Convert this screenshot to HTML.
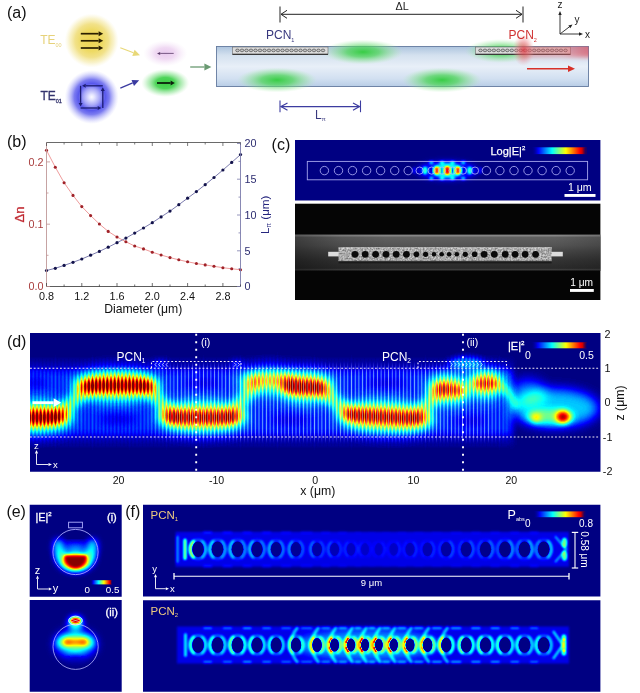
<!DOCTYPE html>
<html><head><meta charset="utf-8"><title>figure</title>
<style>
html,body{margin:0;padding:0;background:#fff}
svg{display:block}
text{font-family:"Liberation Sans",sans-serif}
</style></head><body>
<svg width="640" height="693" viewBox="0 0 640 693">
<defs>
<filter id="jet" color-interpolation-filters="sRGB" x="0" y="0" width="1" height="1">
<feComponentTransfer>
<feFuncR type="table" tableValues="0 0 0 0 0.5 1 1 1 0.5"/>
<feFuncG type="table" tableValues="0 0 0.5 1 1 1 0.5 0 0"/>
<feFuncB type="table" tableValues="0.51 1 1 1 0.5 0 0 0 0"/>
</feComponentTransfer>
</filter>
<linearGradient id="jetbar" x1="0" x2="1" y1="0" y2="0">
<stop offset="0" stop-color="#000082"/><stop offset="0.125" stop-color="#0000ff"/><stop offset="0.25" stop-color="#0080ff"/><stop offset="0.375" stop-color="#00ffff"/><stop offset="0.5" stop-color="#80ff80"/><stop offset="0.625" stop-color="#ffff00"/><stop offset="0.75" stop-color="#ff8000"/><stop offset="0.875" stop-color="#ff0000"/><stop offset="1" stop-color="#800000"/>
</linearGradient>
<filter id="b1" x="-0.5" y="-0.5" width="2" height="2"><feGaussianBlur stdDeviation="1"/></filter>
<filter id="b2" x="-0.5" y="-0.5" width="2" height="2"><feGaussianBlur stdDeviation="2"/></filter>
<filter id="b3" x="-0.5" y="-0.5" width="2" height="2"><feGaussianBlur stdDeviation="3"/></filter>
<filter id="b4" x="-0.5" y="-0.5" width="2" height="2"><feGaussianBlur stdDeviation="4"/></filter>
<filter id="b5" x="-0.5" y="-0.5" width="2" height="2"><feGaussianBlur stdDeviation="5"/></filter>
<filter id="b6" x="-0.5" y="-0.5" width="2" height="2"><feGaussianBlur stdDeviation="6"/></filter>
<filter id="b05" x="-0.5" y="-0.5" width="2" height="2"><feGaussianBlur stdDeviation="0.6"/></filter>

<radialGradient id="gy"><stop offset="0" stop-color="#ecd454"/><stop offset="0.4" stop-color="#eeda64"/><stop offset="0.62" stop-color="#f0de7c" stop-opacity="0.9"/><stop offset="0.82" stop-color="#f4e8a0" stop-opacity="0.55"/><stop offset="1" stop-color="#f8f0c0" stop-opacity="0"/></radialGradient>
<radialGradient id="gb"><stop offset="0" stop-color="#fafaff"/><stop offset="0.1" stop-color="#e4e4ff"/><stop offset="0.3" stop-color="#a8a8f8"/><stop offset="0.5" stop-color="#5858ec"/><stop offset="0.65" stop-color="#6464ee" stop-opacity="0.85"/><stop offset="0.82" stop-color="#9090f4" stop-opacity="0.45"/><stop offset="1" stop-color="#c0c0ff" stop-opacity="0"/></radialGradient>
<radialGradient id="gp"><stop offset="0" stop-color="#e8c8ee"/><stop offset="0.45" stop-color="#ecd0f0" stop-opacity="0.8"/><stop offset="1" stop-color="#f4e4f8" stop-opacity="0"/></radialGradient>
<radialGradient id="gg"><stop offset="0" stop-color="#3ccc44"/><stop offset="0.4" stop-color="#3cd048" stop-opacity="0.9"/><stop offset="0.75" stop-color="#80e088" stop-opacity="0.45"/><stop offset="1" stop-color="#b0f0b0" stop-opacity="0"/></radialGradient>
<radialGradient id="gg2"><stop offset="0" stop-color="#30cc3c" stop-opacity="0.95"/><stop offset="0.4" stop-color="#4cd458" stop-opacity="0.75"/><stop offset="0.75" stop-color="#80e088" stop-opacity="0.35"/><stop offset="1" stop-color="#b0f0b0" stop-opacity="0"/></radialGradient>
<radialGradient id="gr"><stop offset="0" stop-color="#e03840" stop-opacity="0.8"/><stop offset="0.5" stop-color="#e86870" stop-opacity="0.5"/><stop offset="1" stop-color="#f0a0a0" stop-opacity="0"/></radialGradient>
<linearGradient id="gr2" x1="0" x2="1" y1="0" y2="0"><stop offset="0" stop-color="#e05860" stop-opacity="0.4"/><stop offset="0.55" stop-color="#e46068" stop-opacity="0.42"/><stop offset="0.8" stop-color="#e05060" stop-opacity="0.62"/><stop offset="1" stop-color="#dc4858" stop-opacity="0.75"/></linearGradient>
<clipPath id="wgclip"><rect x="216.5" y="46.5" width="372" height="40"/></clipPath>
<linearGradient id="wg" x1="0" x2="0" y1="0" y2="1"><stop offset="0" stop-color="#adc4de"/><stop offset="0.22" stop-color="#d4e1ef"/><stop offset="0.5" stop-color="#e8eff8"/><stop offset="0.8" stop-color="#d2e0f1"/><stop offset="1" stop-color="#b8cde6"/></linearGradient>

<clipPath id="cc1"><rect x="295" y="139.9" width="305.4" height="60.6"/></clipPath>
<linearGradient id="fib" x1="0" x2="0" y1="0" y2="1"><stop offset="0" stop-color="#868686"/><stop offset="0.035" stop-color="#868686"/><stop offset="0.07" stop-color="#606060"/><stop offset="0.3" stop-color="#545454"/><stop offset="0.45" stop-color="#464646"/><stop offset="0.7" stop-color="#343434"/><stop offset="0.93" stop-color="#2a2a2a"/><stop offset="0.97" stop-color="#404040"/><stop offset="1" stop-color="#1c1c1c"/></linearGradient>
<linearGradient id="fibx" x1="0" x2="1" y1="0" y2="0"><stop offset="0" stop-color="#000" stop-opacity="0.35"/><stop offset="0.15" stop-color="#000" stop-opacity="0.1"/><stop offset="0.3" stop-color="#000" stop-opacity="0"/><stop offset="0.85" stop-color="#000" stop-opacity="0"/><stop offset="1" stop-color="#000" stop-opacity="0.15"/></linearGradient>
<filter id="noise" x="0" y="0" width="1" height="1"><feTurbulence type="fractalNoise" baseFrequency="0.6" numOctaves="2" seed="3"/><feColorMatrix type="matrix" values="0 0 0 0 0  0 0 0 0 0  0 0 0 0 0  0.8 0 0 0 -0.22"/><feComposite in2="SourceGraphic" operator="in"/></filter>
<linearGradient id="cbfade" x1="0" x2="1" y1="0" y2="0"><stop offset="0" stop-color="#000082" stop-opacity="1"/><stop offset="0.12" stop-color="#000082" stop-opacity="0"/><stop offset="0.92" stop-color="#000082" stop-opacity="0"/><stop offset="1" stop-color="#000082" stop-opacity="1"/></linearGradient>

<filter id="jet2" color-interpolation-filters="sRGB" x="0" y="0" width="1" height="1">
<feComponentTransfer>
<feFuncR type="table" tableValues="0 0 0 0 0.5 1 1 1 0.5 0.5 0.5 0.5 0.5 0.5 0.5 0.5 0.5"/>
<feFuncG type="table" tableValues="0 0 0.5 1 1 1 0.5 0 0 0 0 0 0 0 0 0 0"/>
<feFuncB type="table" tableValues="0.51 1 1 1 0.5 0 0 0 0 0 0 0 0 0 0 0 0"/>
</feComponentTransfer>
</filter>
<clipPath id="cd1"><rect x="30" y="333" width="570.5" height="138.8"/></clipPath>
<linearGradient id="stripe" gradientUnits="userSpaceOnUse" x1="0" y1="0" x2="3.7" y2="0" spreadMethod="repeat"><stop offset="0" stop-color="#000" stop-opacity="0"/><stop offset="0.5" stop-color="#000" stop-opacity="0.38"/><stop offset="1" stop-color="#000" stop-opacity="0"/></linearGradient>
<linearGradient id="stripeW" gradientUnits="userSpaceOnUse" x1="0" y1="0" x2="3.7" y2="0" spreadMethod="repeat"><stop offset="0" stop-color="#fff" stop-opacity="0.5"/><stop offset="0.2" stop-color="#fff" stop-opacity="0"/><stop offset="0.8" stop-color="#fff" stop-opacity="0"/><stop offset="1" stop-color="#fff" stop-opacity="0.5"/></linearGradient>
<linearGradient id="smaskg" gradientUnits="userSpaceOnUse" x1="30" y1="0" x2="600" y2="0"><stop offset="0" stop-color="#fff" stop-opacity="0.9"/><stop offset="0.05" stop-color="#fff" stop-opacity="1"/><stop offset="0.825" stop-color="#fff" stop-opacity="1"/><stop offset="0.84" stop-color="#fff" stop-opacity="0.5"/><stop offset="0.855" stop-color="#fff" stop-opacity="0"/></linearGradient>
<mask id="smask" maskUnits="userSpaceOnUse" x="30" y="333" width="571" height="139"><rect x="30" y="333" width="571" height="139" fill="url(#smaskg)"/></mask>
<linearGradient id="wmaskg" gradientUnits="userSpaceOnUse" x1="30" y1="0" x2="600" y2="0"><stop offset="0.2" stop-color="#fff" stop-opacity="0"/><stop offset="0.27" stop-color="#fff" stop-opacity="1"/><stop offset="0.8" stop-color="#fff" stop-opacity="1"/><stop offset="0.835" stop-color="#fff" stop-opacity="0"/></linearGradient>
<linearGradient id="wmaskv" gradientUnits="userSpaceOnUse" x1="0" y1="362" x2="0" y2="443"><stop offset="0" stop-color="#000" stop-opacity="1"/><stop offset="0.12" stop-color="#000" stop-opacity="0"/><stop offset="0.88" stop-color="#000" stop-opacity="0"/><stop offset="1" stop-color="#000" stop-opacity="1"/></linearGradient>
<mask id="wmask" maskUnits="userSpaceOnUse" x="30" y="333" width="571" height="139"><rect x="30" y="362" width="571" height="81" fill="url(#wmaskg)"/><rect x="30" y="362" width="571" height="81" fill="url(#wmaskv)"/></mask>

<clipPath id="ce1"><rect x="29.7" y="504.8" width="92" height="92"/></clipPath>
<clipPath id="ce2"><rect x="29.7" y="600.1" width="92" height="91.6"/></clipPath>
<filter id="b15" x="-0.5" y="-0.5" width="2" height="2"><feGaussianBlur stdDeviation="1.5"/></filter>
<clipPath id="ce3"><rect x="40" y="555.6" width="70" height="30"/></clipPath>

<clipPath id="cf1"><rect x="143" y="504.8" width="457.4" height="91.7"/></clipPath>
<clipPath id="cf2"><rect x="143" y="600.2" width="457.4" height="91.5"/></clipPath>
</defs>
<rect width="640" height="693" fill="#fff"/>
<g id="pa">
<text x="7" y="18.4" font-size="16" fill="#111">(a)</text>
<circle cx="91.7" cy="40.6" r="27" fill="url(#gy)"/>
<line x1="80.8" y1="33.7" x2="98.6" y2="33.7" stroke="#2a2000" stroke-width="1.70"/><polygon fill="#2a2000" points="98.6,36.2 103.2,33.7 98.6,31.2"/>
<line x1="80.8" y1="40.8" x2="98.6" y2="40.8" stroke="#2a2000" stroke-width="1.70"/><polygon fill="#2a2000" points="98.6,43.3 103.2,40.8 98.6,38.3"/>
<line x1="80.8" y1="48.0" x2="98.6" y2="48.0" stroke="#2a2000" stroke-width="1.70"/><polygon fill="#2a2000" points="98.6,50.5 103.2,48.0 98.6,45.5"/>
<text x="40.2" y="44.4" font-size="12" fill="#e6d27a">TE<tspan font-size="5.5" dy="2.5">00</tspan></text>
<circle cx="91.7" cy="97" r="27" fill="url(#gb)"/>
<line x1="102.8" y1="85.8" x2="85.7" y2="85.8" stroke="#1c1c72" stroke-width="1.30"/><polygon fill="#1c1c72" points="85.7,83.8 82.1,85.8 85.7,87.8"/><line x1="80.6" y1="85.8" x2="80.6" y2="102.9" stroke="#1c1c72" stroke-width="1.30"/><polygon fill="#1c1c72" points="78.6,102.9 80.6,106.5 82.6,102.9"/><line x1="80.6" y1="108.0" x2="97.7" y2="108.0" stroke="#1c1c72" stroke-width="1.30"/><polygon fill="#1c1c72" points="97.7,110.0 101.3,108.0 97.7,106.0"/><line x1="102.8" y1="108.0" x2="102.8" y2="90.9" stroke="#1c1c72" stroke-width="1.30"/><polygon fill="#1c1c72" points="104.8,90.9 102.8,87.3 100.8,90.9"/>
<text x="40.4" y="100.4" font-size="12" fill="#34346e" stroke="#34346e" stroke-width="0.3">TE<tspan font-size="5.5" dy="2.5">01</tspan></text>
<line x1="120.3" y1="47.8" x2="133.5" y2="52.8" stroke="#e8d878" stroke-width="1.20"/><polygon fill="#e8d878" points="132.3,55.9 140.0,55.3 134.6,49.7"/><line x1="120.3" y1="88.1" x2="132.7" y2="82.9" stroke="#3a3aa0" stroke-width="1.30"/><polygon fill="#3a3aa0" points="134.0,85.9 139.2,80.2 131.5,79.9"/>
<ellipse cx="165.3" cy="53.4" rx="22" ry="13" fill="url(#gp)"/><line x1="173.7" y1="53.4" x2="160.2" y2="53.4" stroke="#5a3a68" stroke-width="0.80"/><polygon fill="#5a3a68" points="160.2,51.9 157.0,53.4 160.2,54.9"/><ellipse cx="165.3" cy="83" rx="24" ry="14" fill="url(#gg)"/><line x1="157.0" y1="83.0" x2="170.6" y2="83.0" stroke="#0c200c" stroke-width="1.80"/><polygon fill="#0c200c" points="170.6,85.4 174.8,83.0 170.6,80.6"/>
<line x1="190.2" y1="67.0" x2="204.4" y2="67.0" stroke="#6a9a72" stroke-width="1.30"/><polygon fill="#6a9a72" points="204.4,70.4 211.4,67.0 204.4,63.6"/>
<rect x="216.5" y="46.5" width="372" height="40" fill="url(#wg)" stroke="#647a9e" stroke-width="0.9"/>
<ellipse cx="363" cy="52" rx="40" ry="12.5" fill="url(#gg2)"/><ellipse cx="277" cy="80" rx="40" ry="12.5" fill="url(#gg2)"/><ellipse cx="442" cy="80" rx="40" ry="12.5" fill="url(#gg2)"/><ellipse cx="501" cy="51" rx="36" ry="12" fill="url(#gg2)" opacity="0.9"/>
<rect x="232.5" y="47" width="95.5" height="7.2" fill="#dcdcdc" stroke="#6a6a6a" stroke-width="0.6"/><line x1="232.5" y1="54.4" x2="328" y2="54.4" stroke="#3a3a3a" stroke-width="1.1"/><ellipse cx="237.5" cy="50.4" rx="1.8" ry="1.35" fill="#c4c4c4" stroke="#3a3a3a" stroke-width="0.6"/><ellipse cx="242.0" cy="50.4" rx="1.8" ry="1.35" fill="#c4c4c4" stroke="#3a3a3a" stroke-width="0.6"/><ellipse cx="246.5" cy="50.4" rx="1.8" ry="1.35" fill="#c4c4c4" stroke="#3a3a3a" stroke-width="0.6"/><ellipse cx="251.0" cy="50.4" rx="1.8" ry="1.35" fill="#c4c4c4" stroke="#3a3a3a" stroke-width="0.6"/><ellipse cx="255.5" cy="50.4" rx="1.8" ry="1.35" fill="#c4c4c4" stroke="#3a3a3a" stroke-width="0.6"/><ellipse cx="260.0" cy="50.4" rx="1.8" ry="1.35" fill="#c4c4c4" stroke="#3a3a3a" stroke-width="0.6"/><ellipse cx="264.5" cy="50.4" rx="1.8" ry="1.35" fill="#c4c4c4" stroke="#3a3a3a" stroke-width="0.6"/><ellipse cx="269.0" cy="50.4" rx="1.8" ry="1.35" fill="#c4c4c4" stroke="#3a3a3a" stroke-width="0.6"/><ellipse cx="273.5" cy="50.4" rx="1.8" ry="1.35" fill="#c4c4c4" stroke="#3a3a3a" stroke-width="0.6"/><ellipse cx="278.0" cy="50.4" rx="1.8" ry="1.35" fill="#c4c4c4" stroke="#3a3a3a" stroke-width="0.6"/><ellipse cx="282.5" cy="50.4" rx="1.8" ry="1.35" fill="#c4c4c4" stroke="#3a3a3a" stroke-width="0.6"/><ellipse cx="287.0" cy="50.4" rx="1.8" ry="1.35" fill="#c4c4c4" stroke="#3a3a3a" stroke-width="0.6"/><ellipse cx="291.5" cy="50.4" rx="1.8" ry="1.35" fill="#c4c4c4" stroke="#3a3a3a" stroke-width="0.6"/><ellipse cx="296.0" cy="50.4" rx="1.8" ry="1.35" fill="#c4c4c4" stroke="#3a3a3a" stroke-width="0.6"/><ellipse cx="300.5" cy="50.4" rx="1.8" ry="1.35" fill="#c4c4c4" stroke="#3a3a3a" stroke-width="0.6"/><ellipse cx="305.0" cy="50.4" rx="1.8" ry="1.35" fill="#c4c4c4" stroke="#3a3a3a" stroke-width="0.6"/><ellipse cx="309.5" cy="50.4" rx="1.8" ry="1.35" fill="#c4c4c4" stroke="#3a3a3a" stroke-width="0.6"/><ellipse cx="314.0" cy="50.4" rx="1.8" ry="1.35" fill="#c4c4c4" stroke="#3a3a3a" stroke-width="0.6"/><ellipse cx="318.5" cy="50.4" rx="1.8" ry="1.35" fill="#c4c4c4" stroke="#3a3a3a" stroke-width="0.6"/><ellipse cx="323.0" cy="50.4" rx="1.8" ry="1.35" fill="#c4c4c4" stroke="#3a3a3a" stroke-width="0.6"/>
<rect x="475.5" y="47" width="95" height="7.2" fill="#dcdcdc" stroke="#6a6a6a" stroke-width="0.6"/><line x1="475.5" y1="54.4" x2="570.5" y2="54.4" stroke="#3a3a3a" stroke-width="1.1"/><ellipse cx="480.5" cy="50.4" rx="1.8" ry="1.35" fill="#c4c4c4" stroke="#3a3a3a" stroke-width="0.6"/><ellipse cx="485.0" cy="50.4" rx="1.8" ry="1.35" fill="#c4c4c4" stroke="#3a3a3a" stroke-width="0.6"/><ellipse cx="489.4" cy="50.4" rx="1.8" ry="1.35" fill="#c4c4c4" stroke="#3a3a3a" stroke-width="0.6"/><ellipse cx="493.9" cy="50.4" rx="1.8" ry="1.35" fill="#c4c4c4" stroke="#3a3a3a" stroke-width="0.6"/><ellipse cx="498.4" cy="50.4" rx="1.8" ry="1.35" fill="#c4c4c4" stroke="#3a3a3a" stroke-width="0.6"/><ellipse cx="502.9" cy="50.4" rx="1.8" ry="1.35" fill="#c4c4c4" stroke="#3a3a3a" stroke-width="0.6"/><ellipse cx="507.3" cy="50.4" rx="1.8" ry="1.35" fill="#c4c4c4" stroke="#3a3a3a" stroke-width="0.6"/><ellipse cx="511.8" cy="50.4" rx="1.8" ry="1.35" fill="#c4c4c4" stroke="#3a3a3a" stroke-width="0.6"/><ellipse cx="516.3" cy="50.4" rx="1.8" ry="1.35" fill="#c4c4c4" stroke="#3a3a3a" stroke-width="0.6"/><ellipse cx="520.8" cy="50.4" rx="1.8" ry="1.35" fill="#c4c4c4" stroke="#3a3a3a" stroke-width="0.6"/><ellipse cx="525.2" cy="50.4" rx="1.8" ry="1.35" fill="#c4c4c4" stroke="#3a3a3a" stroke-width="0.6"/><ellipse cx="529.7" cy="50.4" rx="1.8" ry="1.35" fill="#c4c4c4" stroke="#3a3a3a" stroke-width="0.6"/><ellipse cx="534.2" cy="50.4" rx="1.8" ry="1.35" fill="#c4c4c4" stroke="#3a3a3a" stroke-width="0.6"/><ellipse cx="538.7" cy="50.4" rx="1.8" ry="1.35" fill="#c4c4c4" stroke="#3a3a3a" stroke-width="0.6"/><ellipse cx="543.1" cy="50.4" rx="1.8" ry="1.35" fill="#c4c4c4" stroke="#3a3a3a" stroke-width="0.6"/><ellipse cx="547.6" cy="50.4" rx="1.8" ry="1.35" fill="#c4c4c4" stroke="#3a3a3a" stroke-width="0.6"/><ellipse cx="552.1" cy="50.4" rx="1.8" ry="1.35" fill="#c4c4c4" stroke="#3a3a3a" stroke-width="0.6"/><ellipse cx="556.6" cy="50.4" rx="1.8" ry="1.35" fill="#c4c4c4" stroke="#3a3a3a" stroke-width="0.6"/><ellipse cx="561.0" cy="50.4" rx="1.8" ry="1.35" fill="#c4c4c4" stroke="#3a3a3a" stroke-width="0.6"/><ellipse cx="565.5" cy="50.4" rx="1.8" ry="1.35" fill="#c4c4c4" stroke="#3a3a3a" stroke-width="0.6"/>
<g clip-path="url(#wgclip)"><g filter="url(#b2)"><rect x="524" y="42" width="70" height="15.5" fill="url(#gr2)"/></g></g><ellipse cx="523.5" cy="50" rx="11" ry="16" fill="url(#gr)"/>
<line x1="527.0" y1="68.7" x2="568.0" y2="68.7" stroke="#d83028" stroke-width="1.40"/><polygon fill="#d83028" points="568.0,71.9 575.0,68.7 568.0,65.5"/>
<text x="266" y="39.3" font-size="12" fill="#38387e">PCN<tspan font-size="5.5" dy="2.5">1</tspan></text>
<text x="508.5" y="39.3" font-size="12" fill="#d03030">PCN<tspan font-size="5.5" dy="2.5">2</tspan></text>
<line x1="280" y1="6.5" x2="280" y2="22.5" stroke="#222" stroke-width="1"/><line x1="523" y1="6.5" x2="523" y2="22.5" stroke="#222" stroke-width="1"/><line x1="400.0" y1="14.3" x2="281.0" y2="14.3" stroke="#222" stroke-width="1.00"/><polyline fill="none" stroke="#222" stroke-width="1.00" points="287.0,10.3 281.0,14.3 287.0,18.3"/><line x1="400.0" y1="14.3" x2="522.0" y2="14.3" stroke="#222" stroke-width="1.00"/><polyline fill="none" stroke="#222" stroke-width="1.00" points="516.0,18.3 522.0,14.3 516.0,10.3"/><text x="395.5" y="9.8" font-size="10.8" fill="#222">ΔL</text>
<line x1="280" y1="100.5" x2="280" y2="112.2" stroke="#3c3ca0" stroke-width="1.1"/><line x1="360.5" y1="100.5" x2="360.5" y2="112.2" stroke="#3c3ca0" stroke-width="1.1"/><line x1="320.0" y1="106.6" x2="281.0" y2="106.6" stroke="#3c3ca0" stroke-width="1.20"/><polyline fill="none" stroke="#3c3ca0" stroke-width="1.20" points="287.5,103.0 281.0,106.6 287.5,110.2"/><line x1="320.0" y1="106.6" x2="359.5" y2="106.6" stroke="#3c3ca0" stroke-width="1.20"/><polyline fill="none" stroke="#3c3ca0" stroke-width="1.20" points="353.0,110.2 359.5,106.6 353.0,103.0"/><text x="315" y="118.8" font-size="12" fill="#38387e">L<tspan font-size="6" dy="2.5">π</tspan></text>
<line x1="560.0" y1="34.0" x2="560.0" y2="15.0" stroke="#222" stroke-width="0.90"/><polygon fill="#222" points="561.7,15.0 560.0,11.0 558.3,15.0"/><line x1="560.0" y1="34.0" x2="579.0" y2="34.0" stroke="#222" stroke-width="0.90"/><polygon fill="#222" points="579.0,35.7 583.0,34.0 579.0,32.3"/><line x1="560.0" y1="34.0" x2="569.3" y2="26.9" stroke="#222" stroke-width="0.90"/><polygon fill="#222" points="570.3,28.3 572.5,24.5 568.3,25.6"/><text x="557.5" y="8" font-size="10" fill="#222">z</text><text x="574.5" y="23" font-size="10" fill="#222">y</text><text x="585" y="37.5" font-size="10" fill="#222">x</text>
</g>
<g id="pb">
<text x="7" y="146.5" font-size="16" fill="#111">(b)</text>
<rect x="46.5" y="142.5" width="194" height="144" fill="#fff"/>
<polyline points="46.5,150.3 55.3,167.2 64.1,182.7 73.0,195.4 81.8,206.6 90.6,215.6 99.4,224.0 108.2,231.4 117.0,237.0 125.9,241.8 134.7,246.0 143.5,248.9 152.3,252.2 161.1,255.0 170.0,257.6 178.8,259.8 187.6,261.8 196.4,263.5 205.2,264.9 214.0,266.3 222.9,267.7 231.7,268.8 240.5,269.7" fill="none" stroke="#ec9090" stroke-width="0.9"/>
<polyline points="46.5,270.5 55.3,268.3 64.1,265.4 73.0,262.3 81.8,259.0 90.6,255.2 99.4,251.4 108.2,247.2 117.0,242.7 125.9,238.1 134.7,233.1 143.5,228.0 152.3,222.7 161.1,216.9 170.0,211.1 178.8,204.7 187.6,198.2 196.4,191.6 205.2,184.7 214.0,177.5 222.9,170.0 231.7,162.4 240.5,154.6" fill="none" stroke="#6c6ca4" stroke-width="0.9"/>
<circle cx="46.5" cy="150.3" r="1.55" fill="#a02228"/><circle cx="55.3" cy="167.2" r="1.55" fill="#a02228"/><circle cx="64.1" cy="182.7" r="1.55" fill="#a02228"/><circle cx="73.0" cy="195.4" r="1.55" fill="#a02228"/><circle cx="81.8" cy="206.6" r="1.55" fill="#a02228"/><circle cx="90.6" cy="215.6" r="1.55" fill="#a02228"/><circle cx="99.4" cy="224.0" r="1.55" fill="#a02228"/><circle cx="108.2" cy="231.4" r="1.55" fill="#a02228"/><circle cx="117.0" cy="237.0" r="1.55" fill="#a02228"/><circle cx="125.9" cy="241.8" r="1.55" fill="#a02228"/><circle cx="134.7" cy="246.0" r="1.55" fill="#a02228"/><circle cx="143.5" cy="248.9" r="1.55" fill="#a02228"/><circle cx="152.3" cy="252.2" r="1.55" fill="#a02228"/><circle cx="161.1" cy="255.0" r="1.55" fill="#a02228"/><circle cx="170.0" cy="257.6" r="1.55" fill="#a02228"/><circle cx="178.8" cy="259.8" r="1.55" fill="#a02228"/><circle cx="187.6" cy="261.8" r="1.55" fill="#a02228"/><circle cx="196.4" cy="263.5" r="1.55" fill="#a02228"/><circle cx="205.2" cy="264.9" r="1.55" fill="#a02228"/><circle cx="214.0" cy="266.3" r="1.55" fill="#a02228"/><circle cx="222.9" cy="267.7" r="1.55" fill="#a02228"/><circle cx="231.7" cy="268.8" r="1.55" fill="#a02228"/><circle cx="240.5" cy="269.7" r="1.55" fill="#a02228"/>
<circle cx="46.5" cy="270.5" r="1.6" fill="#12124a"/><circle cx="55.3" cy="268.3" r="1.6" fill="#12124a"/><circle cx="64.1" cy="265.4" r="1.6" fill="#12124a"/><circle cx="73.0" cy="262.3" r="1.6" fill="#12124a"/><circle cx="81.8" cy="259.0" r="1.6" fill="#12124a"/><circle cx="90.6" cy="255.2" r="1.6" fill="#12124a"/><circle cx="99.4" cy="251.4" r="1.6" fill="#12124a"/><circle cx="108.2" cy="247.2" r="1.6" fill="#12124a"/><circle cx="117.0" cy="242.7" r="1.6" fill="#12124a"/><circle cx="125.9" cy="238.1" r="1.6" fill="#12124a"/><circle cx="134.7" cy="233.1" r="1.6" fill="#12124a"/><circle cx="143.5" cy="228.0" r="1.6" fill="#12124a"/><circle cx="152.3" cy="222.7" r="1.6" fill="#12124a"/><circle cx="161.1" cy="216.9" r="1.6" fill="#12124a"/><circle cx="170.0" cy="211.1" r="1.6" fill="#12124a"/><circle cx="178.8" cy="204.7" r="1.6" fill="#12124a"/><circle cx="187.6" cy="198.2" r="1.6" fill="#12124a"/><circle cx="196.4" cy="191.6" r="1.6" fill="#12124a"/><circle cx="205.2" cy="184.7" r="1.6" fill="#12124a"/><circle cx="214.0" cy="177.5" r="1.6" fill="#12124a"/><circle cx="222.9" cy="170.0" r="1.6" fill="#12124a"/><circle cx="231.7" cy="162.4" r="1.6" fill="#12124a"/><circle cx="240.5" cy="154.6" r="1.6" fill="#12124a"/>
<line x1="46.5" y1="142.5" x2="240.5" y2="142.5" stroke="#444" stroke-width="0.8"/><line x1="46.5" y1="286.5" x2="240.5" y2="286.5" stroke="#333" stroke-width="0.8"/><line x1="46.5" y1="142.5" x2="46.5" y2="286.5" stroke="#c09898" stroke-width="0.9"/><line x1="240.5" y1="142.5" x2="240.5" y2="286.5" stroke="#7c7cac" stroke-width="0.9"/>
<line x1="46.5" y1="286.5" x2="46.5" y2="283" stroke="#333" stroke-width="0.7"/><line x1="46.5" y1="142.5" x2="46.5" y2="146" stroke="#444" stroke-width="0.7"/><text x="46.5" y="300" font-size="10.8" text-anchor="middle" fill="#111">0.8</text><line x1="64.1" y1="286.5" x2="64.1" y2="284.5" stroke="#333" stroke-width="0.7"/><line x1="64.1" y1="142.5" x2="64.1" y2="144.5" stroke="#444" stroke-width="0.7"/><line x1="81.8" y1="286.5" x2="81.8" y2="283" stroke="#333" stroke-width="0.7"/><line x1="81.8" y1="142.5" x2="81.8" y2="146" stroke="#444" stroke-width="0.7"/><text x="81.8" y="300" font-size="10.8" text-anchor="middle" fill="#111">1.2</text><line x1="99.4" y1="286.5" x2="99.4" y2="284.5" stroke="#333" stroke-width="0.7"/><line x1="99.4" y1="142.5" x2="99.4" y2="144.5" stroke="#444" stroke-width="0.7"/><line x1="117.0" y1="286.5" x2="117.0" y2="283" stroke="#333" stroke-width="0.7"/><line x1="117.0" y1="142.5" x2="117.0" y2="146" stroke="#444" stroke-width="0.7"/><text x="117.0" y="300" font-size="10.8" text-anchor="middle" fill="#111">1.6</text><line x1="134.7" y1="286.5" x2="134.7" y2="284.5" stroke="#333" stroke-width="0.7"/><line x1="134.7" y1="142.5" x2="134.7" y2="144.5" stroke="#444" stroke-width="0.7"/><line x1="152.3" y1="286.5" x2="152.3" y2="283" stroke="#333" stroke-width="0.7"/><line x1="152.3" y1="142.5" x2="152.3" y2="146" stroke="#444" stroke-width="0.7"/><text x="152.3" y="300" font-size="10.8" text-anchor="middle" fill="#111">2.0</text><line x1="170.0" y1="286.5" x2="170.0" y2="284.5" stroke="#333" stroke-width="0.7"/><line x1="170.0" y1="142.5" x2="170.0" y2="144.5" stroke="#444" stroke-width="0.7"/><line x1="187.6" y1="286.5" x2="187.6" y2="283" stroke="#333" stroke-width="0.7"/><line x1="187.6" y1="142.5" x2="187.6" y2="146" stroke="#444" stroke-width="0.7"/><text x="187.6" y="300" font-size="10.8" text-anchor="middle" fill="#111">2.4</text><line x1="205.2" y1="286.5" x2="205.2" y2="284.5" stroke="#333" stroke-width="0.7"/><line x1="205.2" y1="142.5" x2="205.2" y2="144.5" stroke="#444" stroke-width="0.7"/><line x1="222.9" y1="286.5" x2="222.9" y2="283" stroke="#333" stroke-width="0.7"/><line x1="222.9" y1="142.5" x2="222.9" y2="146" stroke="#444" stroke-width="0.7"/><text x="222.9" y="300" font-size="10.8" text-anchor="middle" fill="#111">2.8</text><line x1="240.5" y1="286.5" x2="240.5" y2="284.5" stroke="#333" stroke-width="0.7"/><line x1="240.5" y1="142.5" x2="240.5" y2="144.5" stroke="#444" stroke-width="0.7"/>
<line x1="46.5" y1="286.5" x2="50" y2="286.5" stroke="#c09090" stroke-width="0.8"/><text x="43.5" y="290.4" font-size="10.8" text-anchor="end" fill="#a83c3c">0.0</text><line x1="46.5" y1="255.3" x2="48.5" y2="255.3" stroke="#c09090" stroke-width="0.8"/><line x1="46.5" y1="224.2" x2="50" y2="224.2" stroke="#c09090" stroke-width="0.8"/><text x="43.5" y="228.1" font-size="10.8" text-anchor="end" fill="#a83c3c">0.1</text><line x1="46.5" y1="193.0" x2="48.5" y2="193.0" stroke="#c09090" stroke-width="0.8"/><line x1="46.5" y1="161.9" x2="50" y2="161.9" stroke="#c09090" stroke-width="0.8"/><text x="43.5" y="165.8" font-size="10.8" text-anchor="end" fill="#a83c3c">0.2</text>
<line x1="240.5" y1="286.5" x2="237" y2="286.5" stroke="#7c7cac" stroke-width="0.8"/><text x="244.5" y="290.4" font-size="10.8" fill="#2c2c70">0</text><line x1="240.5" y1="268.6" x2="238.5" y2="268.6" stroke="#7c7cac" stroke-width="0.8"/><line x1="240.5" y1="250.8" x2="237" y2="250.8" stroke="#7c7cac" stroke-width="0.8"/><text x="244.5" y="254.7" font-size="10.8" fill="#2c2c70">5</text><line x1="240.5" y1="232.9" x2="238.5" y2="232.9" stroke="#7c7cac" stroke-width="0.8"/><line x1="240.5" y1="215.0" x2="237" y2="215.0" stroke="#7c7cac" stroke-width="0.8"/><text x="244.5" y="218.9" font-size="10.8" fill="#2c2c70">10</text><line x1="240.5" y1="197.1" x2="238.5" y2="197.1" stroke="#7c7cac" stroke-width="0.8"/><line x1="240.5" y1="179.2" x2="237" y2="179.2" stroke="#7c7cac" stroke-width="0.8"/><text x="244.5" y="183.2" font-size="10.8" fill="#2c2c70">15</text><line x1="240.5" y1="161.4" x2="238.5" y2="161.4" stroke="#7c7cac" stroke-width="0.8"/><line x1="240.5" y1="143.5" x2="237" y2="143.5" stroke="#7c7cac" stroke-width="0.8"/><text x="244.5" y="147.4" font-size="10.8" fill="#2c2c70">20</text>
<text transform="translate(23.7,214.6) rotate(-90)" font-size="13" text-anchor="middle" fill="#c02830" stroke="#c02830" stroke-width="0.3">Δn</text>
<text transform="translate(269.4,214.8) rotate(-90)" font-size="11.6" text-anchor="middle" fill="#26267e">L<tspan font-size="6.5" dy="2">π</tspan><tspan dy="-2"> (μm)</tspan></text>
<text x="143.2" y="312.8" font-size="12.2" text-anchor="middle" fill="#111">Diameter (μm)</text>
</g>
<g id="pc">
<text x="271.6" y="150" font-size="16" fill="#111">(c)</text>
<g clip-path="url(#cc1)"><g filter="url(#jet)">
<rect x="290" y="134.9" width="315.4" height="70.6" fill="#000"/>
<g filter="url(#b3)"><ellipse cx="447.3" cy="170.5" rx="30" ry="9" fill="#fff" opacity="0.16"/></g>
<g filter="url(#b2)"><ellipse cx="447.3" cy="170.5" rx="14" ry="7.5" fill="#fff" opacity="0.32"/></g>
<g filter="url(#b1)"><ellipse cx="436.7" cy="170.5" rx="2.6" ry="4.1" fill="#fff" opacity="0.7"/><ellipse cx="447.3" cy="170.5" rx="2.7" ry="4.3" fill="#fff" opacity="0.78"/><ellipse cx="458" cy="170.5" rx="2.6" ry="4.1" fill="#fff" opacity="0.7"/><ellipse cx="424.9" cy="170.5" rx="2.4" ry="4" fill="#fff" opacity="0.34"/><ellipse cx="469.9" cy="170.5" rx="2.4" ry="4" fill="#fff" opacity="0.34"/><ellipse cx="414.3" cy="170.5" rx="2.2" ry="3.4" fill="#fff" opacity="0.1"/><ellipse cx="480.3" cy="170.5" rx="2.2" ry="3.4" fill="#fff" opacity="0.1"/><ellipse cx="431.3" cy="162.5" rx="2.4" ry="1.8" fill="#fff" opacity="0.3"/><ellipse cx="431.3" cy="178.5" rx="2.4" ry="1.8" fill="#fff" opacity="0.3"/><ellipse cx="442" cy="162.5" rx="2.4" ry="1.8" fill="#fff" opacity="0.3"/><ellipse cx="442" cy="178.5" rx="2.4" ry="1.8" fill="#fff" opacity="0.3"/><ellipse cx="452.6" cy="162.5" rx="2.4" ry="1.8" fill="#fff" opacity="0.3"/><ellipse cx="452.6" cy="178.5" rx="2.4" ry="1.8" fill="#fff" opacity="0.3"/><ellipse cx="463.3" cy="162.5" rx="2.4" ry="1.8" fill="#fff" opacity="0.3"/><ellipse cx="463.3" cy="178.5" rx="2.4" ry="1.8" fill="#fff" opacity="0.3"/><ellipse cx="431.6" cy="170.5" rx="1.8" ry="3" fill="#000" opacity="0.6"/><ellipse cx="442" cy="170.5" rx="1.8" ry="3" fill="#000" opacity="0.6"/><ellipse cx="452.6" cy="170.5" rx="1.8" ry="3" fill="#000" opacity="0.6"/><ellipse cx="463" cy="170.5" rx="1.8" ry="3" fill="#000" opacity="0.6"/></g>
</g></g>
<rect x="307.3" y="161.4" width="280.3" height="18.4" fill="none" stroke="#b8b8fa" stroke-width="0.9" opacity="0.9"/>
<circle cx="324.4" cy="170.6" r="4.2" fill="none" stroke="#b4b4fa" stroke-width="0.9" opacity="0.9"/><circle cx="338.5" cy="170.6" r="4.2" fill="none" stroke="#b4b4fa" stroke-width="0.9" opacity="0.9"/><circle cx="352.5" cy="170.6" r="4.2" fill="none" stroke="#b4b4fa" stroke-width="0.9" opacity="0.9"/><circle cx="366.6" cy="170.6" r="4.2" fill="none" stroke="#b4b4fa" stroke-width="0.9" opacity="0.9"/><circle cx="380.6" cy="170.6" r="4.2" fill="none" stroke="#b4b4fa" stroke-width="0.9" opacity="0.9"/><circle cx="394.7" cy="170.6" r="4.2" fill="none" stroke="#b4b4fa" stroke-width="0.9" opacity="0.9"/><circle cx="408.2" cy="170.6" r="4.2" fill="none" stroke="#b4b4fa" stroke-width="0.9" opacity="0.9"/><circle cx="419.6" cy="170.6" r="3.6" fill="none" stroke="#b4b4fa" stroke-width="0.9" opacity="0.9"/><circle cx="431.6" cy="170.6" r="3.6" fill="none" stroke="#b4b4fa" stroke-width="0.9" opacity="0.9"/><circle cx="442.0" cy="170.6" r="3.6" fill="none" stroke="#b4b4fa" stroke-width="0.9" opacity="0.9"/><circle cx="452.6" cy="170.6" r="3.6" fill="none" stroke="#b4b4fa" stroke-width="0.9" opacity="0.9"/><circle cx="463.0" cy="170.6" r="3.6" fill="none" stroke="#b4b4fa" stroke-width="0.9" opacity="0.9"/><circle cx="475.0" cy="170.6" r="3.6" fill="none" stroke="#b4b4fa" stroke-width="0.9" opacity="0.9"/><circle cx="486.4" cy="170.6" r="4.2" fill="none" stroke="#b4b4fa" stroke-width="0.9" opacity="0.9"/><circle cx="499.9" cy="170.6" r="4.2" fill="none" stroke="#b4b4fa" stroke-width="0.9" opacity="0.9"/><circle cx="514.0" cy="170.6" r="4.2" fill="none" stroke="#b4b4fa" stroke-width="0.9" opacity="0.9"/><circle cx="528.0" cy="170.6" r="4.2" fill="none" stroke="#b4b4fa" stroke-width="0.9" opacity="0.9"/><circle cx="542.1" cy="170.6" r="4.2" fill="none" stroke="#b4b4fa" stroke-width="0.9" opacity="0.9"/><circle cx="556.1" cy="170.6" r="4.2" fill="none" stroke="#b4b4fa" stroke-width="0.9" opacity="0.9"/><circle cx="570.2" cy="170.6" r="4.2" fill="none" stroke="#b4b4fa" stroke-width="0.9" opacity="0.9"/>
<rect x="531.5" y="147.3" width="55" height="6.8" fill="url(#jetbar)"/><rect x="531.5" y="147.3" width="55" height="6.8" fill="url(#cbfade)"/>
<text x="490.5" y="154.5" font-size="11" fill="#fff" stroke="#fff" stroke-width="0.25">Log|E|<tspan font-size="6" dy="-5">2</tspan></text>
<rect x="564.5" y="194" width="31" height="2.9" fill="#fff"/><text x="579.8" y="190.7" font-size="10.6" text-anchor="middle" fill="#fff">1 μm</text>
<rect x="295" y="203.7" width="305.4" height="96.3" fill="#050505"/>
<rect x="295" y="234.6" width="305.4" height="36.2" fill="url(#fib)"/><rect x="295" y="234.6" width="305.4" height="36.2" fill="url(#fibx)"/>
<rect x="328.2" y="251.8" width="11" height="4.6" fill="#dcdcdc"/><rect x="551" y="251.8" width="11.8" height="4.6" fill="#dcdcdc"/>
<rect x="338.6" y="247.4" width="213" height="13.8" fill="#cecece"/><rect x="338.6" y="247.4" width="213" height="1.2" fill="#e0e0e0"/><rect x="338.6" y="260.2" width="213" height="1" fill="#a8a8a8"/><rect x="338.6" y="261.2" width="213" height="2.2" fill="#161616" opacity="0.75"/><rect x="338.6" y="247.4" width="213" height="13.8" fill="#000" filter="url(#noise)"/>
<circle cx="355.0" cy="254.3" r="3.4" fill="#0a0a0a"/><circle cx="365.2" cy="254.3" r="3.4" fill="#0a0a0a"/><circle cx="375.6" cy="254.3" r="3.4" fill="#0a0a0a"/><circle cx="386.0" cy="254.3" r="3.4" fill="#0a0a0a"/><circle cx="396.2" cy="254.3" r="3.4" fill="#0a0a0a"/><circle cx="406.4" cy="254.3" r="3.4" fill="#0a0a0a"/><circle cx="416.4" cy="254.3" r="2.8" fill="#0a0a0a"/><circle cx="425.6" cy="254.3" r="2.6" fill="#0a0a0a"/><circle cx="434.0" cy="254.3" r="2.3" fill="#0a0a0a"/><circle cx="441.7" cy="254.3" r="2.3" fill="#0a0a0a"/><circle cx="449.1" cy="254.3" r="2.3" fill="#0a0a0a"/><circle cx="456.8" cy="254.3" r="2.3" fill="#0a0a0a"/><circle cx="465.3" cy="254.3" r="2.6" fill="#0a0a0a"/><circle cx="474.6" cy="254.3" r="2.8" fill="#0a0a0a"/><circle cx="484.2" cy="254.3" r="3.4" fill="#0a0a0a"/><circle cx="494.3" cy="254.3" r="3.4" fill="#0a0a0a"/><circle cx="505.2" cy="254.3" r="3.4" fill="#0a0a0a"/><circle cx="515.1" cy="254.3" r="3.4" fill="#0a0a0a"/><circle cx="525.2" cy="254.3" r="3.4" fill="#0a0a0a"/><circle cx="535.6" cy="254.3" r="3.4" fill="#0a0a0a"/>
<rect x="570" y="289" width="23.8" height="2.9" fill="#fff"/><text x="581.6" y="286.3" font-size="10.2" text-anchor="middle" fill="#fff">1 μm</text>
</g>
<g id="pd">
<text x="6.9" y="346.5" font-size="16" fill="#111">(d)</text>
<g clip-path="url(#cd1)"><g filter="url(#jet2)">
<rect x="25" y="328" width="580.5" height="148.8" fill="#000"/>
<g filter="url(#b3)"><rect x="20" y="370" width="492" height="65" fill="#fff" opacity="0.08"/><rect x="20" y="360" width="492" height="85" fill="#fff" opacity="0.03"/></g>
<g filter="url(#b6)"><rect x="-5" y="397" width="81" height="40" rx="40.5" ry="20" fill="#fff" opacity="0.1"/><rect x="70" y="365.5" width="93" height="40" rx="46.5" ry="20" fill="#fff" opacity="0.1"/><rect x="154" y="397" width="96" height="40" rx="48" ry="20" fill="#fff" opacity="0.1"/><rect x="235" y="361" width="67" height="40" rx="33.5" ry="20" fill="#fff" opacity="0.06"/><rect x="276" y="367" width="61" height="40" rx="30.5" ry="20" fill="#fff" opacity="0.1"/><rect x="334" y="397" width="103" height="40" rx="51.5" ry="20" fill="#fff" opacity="0.1" transform="rotate(3 385.5 417)"/><rect x="424" y="369.5" width="49" height="40" rx="24.5" ry="20" fill="#fff" opacity="0.085" transform="rotate(8 448.5 389.5)"/><rect x="465" y="363.5" width="42" height="40" rx="21" ry="20" fill="#fff" opacity="0.085"/></g>
<g filter="url(#b4)"><rect x="0" y="405.5" width="71" height="23" rx="32.2" ry="11.5" fill="#fff" opacity="0.28"/><rect x="75" y="374" width="83" height="23" rx="32.2" ry="11.5" fill="#fff" opacity="0.28"/><rect x="159" y="405.5" width="86" height="23" rx="32.2" ry="11.5" fill="#fff" opacity="0.28"/><rect x="240" y="369.5" width="57" height="23" rx="28.5" ry="11.5" fill="#fff" opacity="0.168"/><rect x="281" y="375.5" width="51" height="23" rx="25.5" ry="11.5" fill="#fff" opacity="0.28"/><rect x="339" y="405.5" width="93" height="23" rx="32.2" ry="11.5" fill="#fff" opacity="0.28" transform="rotate(3 385.5 417)"/><rect x="429" y="378" width="39" height="23" rx="19.5" ry="11.5" fill="#fff" opacity="0.238" transform="rotate(8 448.5 389.5)"/><rect x="470" y="372" width="32" height="23" rx="16" ry="11.5" fill="#fff" opacity="0.238"/><line x1="58" y1="415" x2="88" y2="388" stroke="#fff" stroke-width="12" stroke-linecap="round" opacity="0.22"/><line x1="148" y1="388" x2="172" y2="415" stroke="#fff" stroke-width="12" stroke-linecap="round" opacity="0.22"/><line x1="232" y1="415" x2="254" y2="384" stroke="#fff" stroke-width="12" stroke-linecap="round" opacity="0.22"/><line x1="320" y1="390" x2="350" y2="413" stroke="#fff" stroke-width="12" stroke-linecap="round" opacity="0.22"/><line x1="418" y1="415" x2="440" y2="391" stroke="#fff" stroke-width="12" stroke-linecap="round" opacity="0.22"/></g>
<g filter="url(#b3)"><rect x="5" y="412.25" width="57" height="10.5" rx="14.7" ry="5.25" fill="#fff" opacity="0.36"/><rect x="84" y="380.25" width="67" height="10.5" rx="14.7" ry="5.25" fill="#fff" opacity="0.36"/><rect x="167" y="412.25" width="70" height="10.5" rx="14.7" ry="5.25" fill="#fff" opacity="0.36"/><rect x="249" y="376" width="45" height="9" rx="12.6" ry="4.5" fill="#fff" opacity="0.17"/><rect x="285" y="381.25" width="39" height="11.5" rx="16.1" ry="5.75" fill="#fff" opacity="0.38"/><rect x="347" y="411.75" width="76" height="10.5" rx="14.7" ry="5.25" fill="#fff" opacity="0.34" transform="rotate(3 385 417)"/><rect x="436" y="384.25" width="28" height="10.5" rx="14" ry="5.25" fill="#fff" opacity="0.28" transform="rotate(8 450 389.5)"/><rect x="474" y="379" width="24" height="9" rx="12" ry="4.5" fill="#fff" opacity="0.3"/></g>
<g filter="url(#b4)"><ellipse cx="118" cy="419" rx="18" ry="5" fill="#000" opacity="0.45"/><ellipse cx="202" cy="383" rx="18" ry="5" fill="#000" opacity="0.45"/><ellipse cx="290" cy="420" rx="20" ry="5" fill="#000" opacity="0.45"/><ellipse cx="386" cy="383" rx="21" ry="5" fill="#000" opacity="0.45"/><ellipse cx="470" cy="421" rx="16" ry="5" fill="#000" opacity="0.45"/><ellipse cx="36" cy="383" rx="10" ry="5" fill="#000" opacity="0.45"/></g>
<g filter="url(#b3)"><ellipse cx="466" cy="363" rx="17" ry="6" fill="#fff" opacity="0.16"/><ellipse cx="160" cy="364" rx="8" ry="4" fill="#fff" opacity="0.08"/><ellipse cx="237" cy="364" rx="6" ry="4" fill="#fff" opacity="0.08"/></g>
<g mask="url(#smask)"><rect x="30" y="340" width="480" height="125" fill="url(#stripe)"/></g>
<g filter="url(#b6)"><ellipse cx="555" cy="408" rx="44" ry="19" fill="#fff" opacity="0.16"/><ellipse cx="528" cy="392" rx="18" ry="13" fill="#fff" opacity="0.11"/></g><g filter="url(#b3)"><ellipse cx="550" cy="417" rx="25" ry="8" fill="#fff" opacity="0.1"/><ellipse cx="563" cy="417" rx="6.5" ry="6" fill="#fff" opacity="0.37"/><ellipse cx="536" cy="418" rx="4.5" ry="4.2" fill="#fff" opacity="0.2"/><path d="M500 386 Q512 392 516 408" fill="none" stroke="#fff" stroke-width="6" opacity="0.14"/></g>
</g>
<g mask="url(#wmask)"><rect x="30" y="362" width="480" height="81" fill="url(#stripeW)"/></g>
</g>
<line x1="30" y1="368.2" x2="600" y2="368.2" stroke="#f4ecf4" stroke-width="1.1" stroke-dasharray="1.85 1.9"/><line x1="30" y1="437" x2="600" y2="437" stroke="#f4ecf4" stroke-width="1.1" stroke-dasharray="1.85 1.9"/>
<line x1="196.2" y1="333.8" x2="196.2" y2="471.5" stroke="#fff" stroke-width="1.9" stroke-dasharray="1.9 5.6"/><line x1="463" y1="333.8" x2="463" y2="471.5" stroke="#fff" stroke-width="1.9" stroke-dasharray="1.9 5.6"/>
<path d="M151.5 368 V361.5 H241 V368" fill="none" stroke="#f4ecf4" stroke-width="1.1" stroke-dasharray="1.85 1.9"/><path d="M418 368 V361.5 H506.5 V368" fill="none" stroke="#f4ecf4" stroke-width="1.1" stroke-dasharray="1.85 1.9"/>
<path d="M450.5 362.6 l1.8 2 l-1.8 2 M454.2 362.6 l1.8 2 l-1.8 2 M458.0 362.6 l1.8 2 l-1.8 2 M461.8 362.6 l1.8 2 l-1.8 2 M465.5 362.6 l1.8 2 l-1.8 2 M469.2 362.6 l1.8 2 l-1.8 2 M473.0 362.6 l1.8 2 l-1.8 2 M476.8 362.6 l1.8 2 l-1.8 2 M480.5 362.6 l1.8 2 l-1.8 2 M156.8 362.6 l-1.8 2 l1.8 2 M160.5 362.6 l-1.8 2 l1.8 2 M164.2 362.6 l-1.8 2 l1.8 2 M167.9 362.6 l-1.8 2 l1.8 2 M234.0 362.6 l1.8 2 l-1.8 2 M237.7 362.6 l1.8 2 l-1.8 2 " fill="none" stroke="#fff" stroke-width="0.8" opacity="0.85"/>
<text x="116.5" y="361" font-size="12" fill="#fff">PCN<tspan font-size="6.5" dy="2">1</tspan></text>
<text x="382" y="361" font-size="12" fill="#fff">PCN<tspan font-size="6.5" dy="2">2</tspan></text>
<text x="201" y="346" font-size="10.5" fill="#fff">(i)</text><text x="466.5" y="346" font-size="10.5" fill="#fff">(ii)</text>
<line x1="32.5" y1="402.7" x2="53.6" y2="402.7" stroke="#fff" stroke-width="2.80"/><polygon fill="#fff" points="53.6,407.1 61.2,402.7 53.6,398.3"/>
<line x1="36.5" y1="464.5" x2="36.5" y2="453.5" stroke="#fff" stroke-width="0.90"/><polygon fill="#fff" points="38.1,453.5 36.5,450.0 34.9,453.5"/><line x1="36.5" y1="464.5" x2="48.5" y2="464.5" stroke="#fff" stroke-width="0.90"/><polygon fill="#fff" points="48.5,466.1 52.0,464.5 48.5,462.9"/><text x="34" y="448.5" font-size="9.5" fill="#fff">z</text><text x="53" y="467.5" font-size="9.5" fill="#fff">x</text>
<rect x="531" y="342.3" width="56" height="6" fill="url(#jetbar)"/><rect x="531" y="342.3" width="56" height="6" fill="url(#cbfade)"/>
<text x="508" y="350" font-size="11" fill="#fff" stroke="#fff" stroke-width="0.3">|E|<tspan font-size="6.2" dy="-5.2">2</tspan></text>
<text x="527.8" y="359.2" font-size="10.5" text-anchor="middle" fill="#fff">0</text><text x="586.5" y="359.2" font-size="10.5" text-anchor="middle" fill="#fff">0.5</text>
<text x="607.6" y="337.5" font-size="10.8" text-anchor="middle" fill="#111">2</text><text x="607.6" y="371.9" font-size="10.8" text-anchor="middle" fill="#111">1</text><text x="607.6" y="406.4" font-size="10.8" text-anchor="middle" fill="#111">0</text><text x="607.6" y="440.8" font-size="10.8" text-anchor="middle" fill="#111">-1</text><text x="607.6" y="475.3" font-size="10.8" text-anchor="middle" fill="#111">-2</text>
<text transform="translate(624.3,402.9) rotate(-90)" font-size="12.3" text-anchor="middle" fill="#111">z (μm)</text>
<text x="118.6" y="483.6" font-size="10.6" text-anchor="middle" fill="#111">20</text><text x="216.6" y="483.6" font-size="10.6" text-anchor="middle" fill="#111">-10</text><text x="315.3" y="483.6" font-size="10.6" text-anchor="middle" fill="#111">0</text><text x="413.4" y="483.6" font-size="10.6" text-anchor="middle" fill="#111">10</text><text x="511.3" y="483.6" font-size="10.6" text-anchor="middle" fill="#111">20</text>
<text x="317.8" y="494.5" font-size="12.3" text-anchor="middle" fill="#111">x (μm)</text>
</g>
<g id="pe">
<text x="6.4" y="517" font-size="16" fill="#111">(e)</text>
<g clip-path="url(#ce1)"><g filter="url(#jet)">
<rect x="24.7" y="499.8" width="102" height="102" fill="#000"/>
<g filter="url(#b4)"><ellipse cx="75.5" cy="558" rx="18" ry="12" fill="#fff" opacity="0.26"/><ellipse cx="75.5" cy="541" rx="7" ry="9" fill="#000" opacity="0.75"/></g>
<g filter="url(#b3)"><path d="M58.5 544 C57 574 94 574 92.5 544" fill="none" stroke="#fff" stroke-width="10" stroke-linecap="round" opacity="0.36"/><ellipse cx="75.5" cy="562" rx="13" ry="7" fill="#fff" opacity="0.36"/></g>
<g filter="url(#b2)"><ellipse cx="75.5" cy="561.5" rx="12" ry="7.5" fill="#fff" opacity="0.42"/></g>
<g filter="url(#b15)"><g clip-path="url(#ce3)"><ellipse cx="75.5" cy="554.5" rx="11.3" ry="13.5" fill="#fff" opacity="0.97"/></g></g>
</g></g>
<circle cx="75.5" cy="552" r="22.6" fill="none" stroke="#a8a8ff" stroke-width="0.9"/><rect x="68.6" y="522.2" width="13.8" height="5.6" fill="none" stroke="#b0b0ff" stroke-width="0.9"/>
<text x="35.5" y="521" font-size="10.8" fill="#fff" stroke="#fff" stroke-width="0.3">|E|<tspan font-size="6" dy="-5.2">2</tspan></text><text x="107" y="520.8" font-size="11" fill="#fff" stroke="#fff" stroke-width="0.3">(i)</text>
<line x1="37.5" y1="589.0" x2="37.5" y2="578.7" stroke="#fff" stroke-width="0.90"/><polygon fill="#fff" points="39.0,578.7 37.5,575.5 36.0,578.7"/><line x1="37.5" y1="589.0" x2="48.8" y2="589.0" stroke="#fff" stroke-width="0.90"/><polygon fill="#fff" points="48.8,590.5 52.0,589.0 48.8,587.5"/><text x="34.8" y="573.5" font-size="11" fill="#fff">z</text><text x="52.8" y="592" font-size="11" fill="#fff">y</text>
<rect x="90.5" y="580.2" width="21.5" height="4.2" fill="url(#jetbar)"/><rect x="90.5" y="580.2" width="21.5" height="4.2" fill="url(#cbfade)"/>
<text x="87.3" y="593.3" font-size="9.8" text-anchor="middle" fill="#fff">0</text><text x="112.6" y="593.3" font-size="9.8" text-anchor="middle" fill="#fff">0.5</text>
<g clip-path="url(#ce2)"><g filter="url(#jet)">
<rect x="24.7" y="595.1" width="102" height="101.6" fill="#000"/>
<g filter="url(#b5)"><ellipse cx="75.5" cy="644" rx="21" ry="14" fill="#fff" opacity="0.28"/></g>
<g filter="url(#b3)"><ellipse cx="75.5" cy="642" rx="19" ry="7.5" fill="#fff" opacity="0.38"/><ellipse cx="75.5" cy="623" rx="7.5" ry="7" fill="#fff" opacity="0.45"/><ellipse cx="75.5" cy="656" rx="7" ry="5" fill="#000" opacity="0.5"/></g>
<g filter="url(#b2)"><rect x="63.5" y="639.6" width="24" height="5.2" rx="2.6" fill="#fff" opacity="0.5"/><ellipse cx="67.5" cy="642.2" rx="4" ry="3.6" fill="#fff" opacity="0.22"/><ellipse cx="83.5" cy="642.2" rx="4" ry="3.6" fill="#fff" opacity="0.22"/></g>
<g filter="url(#b1)"><ellipse cx="75.5" cy="620.5" rx="5.5" ry="3" fill="#fff" opacity="0.9"/></g>
</g></g>
<circle cx="75.6" cy="646.8" r="22.6" fill="none" stroke="#b8b8ff" stroke-width="0.8"/><ellipse cx="75.5" cy="620.6" rx="6.9" ry="4.4" fill="none" stroke="#f0f0f0" stroke-width="0.9"/>
<path d="M71 619 L80 622 M71 622 L80 619" stroke="#fff" stroke-width="0.6" opacity="0.7"/>
<text x="105.6" y="616.2" font-size="11" fill="#fff" stroke="#fff" stroke-width="0.3">(ii)</text>
</g>
<g id="pf">
<text x="125.2" y="517" font-size="16" fill="#111">(f)</text>
<g clip-path="url(#cf1)"><g filter="url(#jet)">
<rect x="138" y="499.8" width="467.4" height="101.7" fill="#000"/>
<g filter="url(#b1)"><rect x="175.5" y="531.8" width="393.5" height="35" fill="#fff" opacity="0.1"/></g>
<g filter="url(#b1)"><ellipse cx="198" cy="549.3" rx="7.5" ry="9.5" fill="none" stroke="#fff" stroke-width="3" opacity="0.11"/><path d="M193.6 557.2 A7.6 9.6 0 0 1 193.6 541.4" fill="none" stroke="#fff" stroke-width="3.4" stroke-linecap="round" opacity="0.27"/><path d="M202.4 541.4 A7.6 9.6 0 0 1 202.4 557.2" fill="none" stroke="#fff" stroke-width="3.4" stroke-linecap="round" opacity="0.16"/><rect x="203.3" y="531.1" width="8.8" height="2.4" fill="#fff" opacity="0.10"/><rect x="203.3" y="565.1" width="8.8" height="2.4" fill="#fff" opacity="0.10"/><ellipse cx="217.5" cy="549.3" rx="7.5" ry="9.5" fill="none" stroke="#fff" stroke-width="3" opacity="0.09"/><path d="M213.1 557.2 A7.6 9.6 0 0 1 213.1 541.4" fill="none" stroke="#fff" stroke-width="3.4" stroke-linecap="round" opacity="0.22"/><path d="M221.9 541.4 A7.6 9.6 0 0 1 221.9 557.2" fill="none" stroke="#fff" stroke-width="3.4" stroke-linecap="round" opacity="0.14"/><rect x="222.8" y="531.1" width="9.3" height="2.4" fill="#fff" opacity="0.08"/><rect x="222.8" y="565.1" width="9.3" height="2.4" fill="#fff" opacity="0.08"/><ellipse cx="237.5" cy="549.3" rx="7.5" ry="9.5" fill="none" stroke="#fff" stroke-width="3" opacity="0.08"/><path d="M233.1 557.2 A7.6 9.6 0 0 1 233.1 541.4" fill="none" stroke="#fff" stroke-width="3.4" stroke-linecap="round" opacity="0.20"/><path d="M241.9 541.4 A7.6 9.6 0 0 1 241.9 557.2" fill="none" stroke="#fff" stroke-width="3.4" stroke-linecap="round" opacity="0.12"/><rect x="242.8" y="531.1" width="8.8" height="2.4" fill="#fff" opacity="0.07"/><rect x="242.8" y="565.1" width="8.8" height="2.4" fill="#fff" opacity="0.07"/><ellipse cx="257" cy="549.3" rx="7.3" ry="9.3" fill="none" stroke="#fff" stroke-width="3" opacity="0.07"/><path d="M252.8 557.0 A7.4 9.4 0 0 1 252.8 541.6" fill="none" stroke="#fff" stroke-width="3.4" stroke-linecap="round" opacity="0.19"/><path d="M261.2 541.6 A7.4 9.4 0 0 1 261.2 557.0" fill="none" stroke="#fff" stroke-width="3.4" stroke-linecap="round" opacity="0.11"/><rect x="262.2" y="531.1" width="8.9" height="2.4" fill="#fff" opacity="0.07"/><rect x="262.2" y="565.1" width="8.9" height="2.4" fill="#fff" opacity="0.07"/><ellipse cx="276.2" cy="549.3" rx="7.1" ry="9.1" fill="none" stroke="#fff" stroke-width="3" opacity="0.07"/><path d="M272.1 556.8 A7.2 9.2 0 0 1 272.1 541.8" fill="none" stroke="#fff" stroke-width="3.4" stroke-linecap="round" opacity="0.17"/><path d="M280.3 541.8 A7.2 9.2 0 0 1 280.3 556.8" fill="none" stroke="#fff" stroke-width="3.4" stroke-linecap="round" opacity="0.10"/><rect x="281.2" y="531.1" width="9.9" height="2.4" fill="#fff" opacity="0.06"/><rect x="281.2" y="565.1" width="9.9" height="2.4" fill="#fff" opacity="0.06"/><ellipse cx="296" cy="549.3" rx="6.9" ry="8.9" fill="none" stroke="#fff" stroke-width="3" opacity="0.05"/><path d="M292.0 556.7 A7.0 9.0 0 0 1 292.0 541.9" fill="none" stroke="#fff" stroke-width="3.4" stroke-linecap="round" opacity="0.14"/><path d="M300.0 541.9 A7.0 9.0 0 0 1 300.0 556.7" fill="none" stroke="#fff" stroke-width="3.4" stroke-linecap="round" opacity="0.08"/><rect x="300.8" y="531.1" width="11.5" height="2.4" fill="#fff" opacity="0.05"/><rect x="300.8" y="565.1" width="11.5" height="2.4" fill="#fff" opacity="0.05"/><ellipse cx="317" cy="549.3" rx="6.6" ry="8.6" fill="none" stroke="#fff" stroke-width="3" opacity="0.04"/><path d="M313.2 556.4 A6.7 8.7 0 0 1 313.2 542.2" fill="none" stroke="#fff" stroke-width="3.4" stroke-linecap="round" opacity="0.11"/><path d="M320.8 542.2 A6.7 8.7 0 0 1 320.8 556.4" fill="none" stroke="#fff" stroke-width="3.4" stroke-linecap="round" opacity="0.06"/><rect x="321.4" y="531.1" width="8.6" height="2.4" fill="#fff" opacity="0.04"/><rect x="321.4" y="565.1" width="8.6" height="2.4" fill="#fff" opacity="0.04"/><ellipse cx="334.5" cy="549.3" rx="6.3" ry="8.3" fill="none" stroke="#fff" stroke-width="3" opacity="0.03"/><path d="M330.8 556.2 A6.4 8.4 0 0 1 330.8 542.4" fill="none" stroke="#fff" stroke-width="3.4" stroke-linecap="round" opacity="0.08"/><path d="M338.2 542.4 A6.4 8.4 0 0 1 338.2 556.2" fill="none" stroke="#fff" stroke-width="3.4" stroke-linecap="round" opacity="0.04"/><rect x="338.6" y="531.1" width="8.2" height="2.4" fill="#fff" opacity="0.03"/><rect x="338.6" y="565.1" width="8.2" height="2.4" fill="#fff" opacity="0.03"/><ellipse cx="351" cy="549.3" rx="6" ry="8.1" fill="none" stroke="#fff" stroke-width="3" opacity="0.02"/><path d="M347.5 556.0 A6.1 8.2 0 0 1 347.5 542.6" fill="none" stroke="#fff" stroke-width="3.4" stroke-linecap="round" opacity="0.05"/><path d="M354.5 542.6 A6.1 8.2 0 0 1 354.5 556.0" fill="none" stroke="#fff" stroke-width="3.4" stroke-linecap="round" opacity="0.03"/><rect x="354.9" y="531.1" width="6.3" height="2.4" fill="#fff" opacity="0.02"/><rect x="354.9" y="565.1" width="6.3" height="2.4" fill="#fff" opacity="0.02"/><ellipse cx="365" cy="549.3" rx="5.8" ry="7.9" fill="none" stroke="#fff" stroke-width="3" opacity="0.01"/><path d="M361.6 555.9 A5.9 8.0 0 0 1 361.6 542.7" fill="none" stroke="#fff" stroke-width="3.4" stroke-linecap="round" opacity="0.04"/><path d="M368.4 542.7 A5.9 8.0 0 0 1 368.4 555.9" fill="none" stroke="#fff" stroke-width="3.4" stroke-linecap="round" opacity="0.02"/><rect x="368.7" y="531.1" width="6.4" height="2.4" fill="#fff" opacity="0.01"/><rect x="368.7" y="565.1" width="6.4" height="2.4" fill="#fff" opacity="0.01"/><ellipse cx="378.7" cy="549.3" rx="5.8" ry="7.9" fill="none" stroke="#fff" stroke-width="3" opacity="0.01"/><path d="M375.3 555.9 A5.9 8.0 0 0 1 375.3 542.7" fill="none" stroke="#fff" stroke-width="3.4" stroke-linecap="round" opacity="0.02"/><path d="M382.1 542.7 A5.9 8.0 0 0 1 382.1 555.9" fill="none" stroke="#fff" stroke-width="3.4" stroke-linecap="round" opacity="0.04"/><rect x="382.3" y="531.1" width="7.7" height="2.4" fill="#fff" opacity="0.01"/><rect x="382.3" y="565.1" width="7.7" height="2.4" fill="#fff" opacity="0.01"/><ellipse cx="393.7" cy="549.3" rx="6" ry="8.1" fill="none" stroke="#fff" stroke-width="3" opacity="0.02"/><path d="M390.2 556.0 A6.1 8.2 0 0 1 390.2 542.6" fill="none" stroke="#fff" stroke-width="3.4" stroke-linecap="round" opacity="0.02"/><path d="M397.2 542.6 A6.1 8.2 0 0 1 397.2 556.0" fill="none" stroke="#fff" stroke-width="3.4" stroke-linecap="round" opacity="0.04"/><rect x="397.6" y="531.1" width="8.6" height="2.4" fill="#fff" opacity="0.02"/><rect x="397.6" y="565.1" width="8.6" height="2.4" fill="#fff" opacity="0.02"/><ellipse cx="410" cy="549.3" rx="6.3" ry="8.3" fill="none" stroke="#fff" stroke-width="3" opacity="0.02"/><path d="M406.3 556.2 A6.4 8.4 0 0 1 406.3 542.4" fill="none" stroke="#fff" stroke-width="3.4" stroke-linecap="round" opacity="0.03"/><path d="M413.7 542.4 A6.4 8.4 0 0 1 413.7 556.2" fill="none" stroke="#fff" stroke-width="3.4" stroke-linecap="round" opacity="0.05"/><rect x="414.1" y="531.1" width="9.2" height="2.4" fill="#fff" opacity="0.02"/><rect x="414.1" y="565.1" width="9.2" height="2.4" fill="#fff" opacity="0.02"/><ellipse cx="427.5" cy="549.3" rx="6.6" ry="8.6" fill="none" stroke="#fff" stroke-width="3" opacity="0.02"/><path d="M423.7 556.4 A6.7 8.7 0 0 1 423.7 542.2" fill="none" stroke="#fff" stroke-width="3.4" stroke-linecap="round" opacity="0.03"/><path d="M431.3 542.2 A6.7 8.7 0 0 1 431.3 556.4" fill="none" stroke="#fff" stroke-width="3.4" stroke-linecap="round" opacity="0.06"/><rect x="432.0" y="531.1" width="9.8" height="2.4" fill="#fff" opacity="0.02"/><rect x="432.0" y="565.1" width="9.8" height="2.4" fill="#fff" opacity="0.02"/><ellipse cx="446.2" cy="549.3" rx="6.9" ry="8.9" fill="none" stroke="#fff" stroke-width="3" opacity="0.03"/><path d="M442.2 556.7 A7.0 9.0 0 0 1 442.2 541.9" fill="none" stroke="#fff" stroke-width="3.4" stroke-linecap="round" opacity="0.04"/><path d="M450.2 541.9 A7.0 9.0 0 0 1 450.2 556.7" fill="none" stroke="#fff" stroke-width="3.4" stroke-linecap="round" opacity="0.08"/><rect x="450.9" y="531.1" width="10.5" height="2.4" fill="#fff" opacity="0.03"/><rect x="450.9" y="565.1" width="10.5" height="2.4" fill="#fff" opacity="0.03"/><ellipse cx="466.2" cy="549.3" rx="7.1" ry="9.1" fill="none" stroke="#fff" stroke-width="3" opacity="0.03"/><path d="M462.1 556.8 A7.2 9.2 0 0 1 462.1 541.8" fill="none" stroke="#fff" stroke-width="3.4" stroke-linecap="round" opacity="0.05"/><path d="M470.3 541.8 A7.2 9.2 0 0 1 470.3 556.8" fill="none" stroke="#fff" stroke-width="3.4" stroke-linecap="round" opacity="0.09"/><rect x="471.2" y="531.1" width="9.4" height="2.4" fill="#fff" opacity="0.03"/><rect x="471.2" y="565.1" width="9.4" height="2.4" fill="#fff" opacity="0.03"/><ellipse cx="485.5" cy="549.3" rx="7.3" ry="9.3" fill="none" stroke="#fff" stroke-width="3" opacity="0.04"/><path d="M481.3 557.0 A7.4 9.4 0 0 1 481.3 541.6" fill="none" stroke="#fff" stroke-width="3.4" stroke-linecap="round" opacity="0.06"/><path d="M489.7 541.6 A7.4 9.4 0 0 1 489.7 557.0" fill="none" stroke="#fff" stroke-width="3.4" stroke-linecap="round" opacity="0.11"/><rect x="490.6" y="531.1" width="9.2" height="2.4" fill="#fff" opacity="0.04"/><rect x="490.6" y="565.1" width="9.2" height="2.4" fill="#fff" opacity="0.04"/><ellipse cx="505" cy="549.3" rx="7.5" ry="9.5" fill="none" stroke="#fff" stroke-width="3" opacity="0.05"/><path d="M500.6 557.2 A7.6 9.6 0 0 1 500.6 541.4" fill="none" stroke="#fff" stroke-width="3.4" stroke-linecap="round" opacity="0.07"/><path d="M509.4 541.4 A7.6 9.6 0 0 1 509.4 557.2" fill="none" stroke="#fff" stroke-width="3.4" stroke-linecap="round" opacity="0.14"/><rect x="510.4" y="531.1" width="8.8" height="2.4" fill="#fff" opacity="0.05"/><rect x="510.4" y="565.1" width="8.8" height="2.4" fill="#fff" opacity="0.05"/><ellipse cx="524.5" cy="549.3" rx="7.5" ry="9.5" fill="none" stroke="#fff" stroke-width="3" opacity="0.06"/><path d="M520.1 557.2 A7.6 9.6 0 0 1 520.1 541.4" fill="none" stroke="#fff" stroke-width="3.4" stroke-linecap="round" opacity="0.09"/><path d="M528.9 541.4 A7.6 9.6 0 0 1 528.9 557.2" fill="none" stroke="#fff" stroke-width="3.4" stroke-linecap="round" opacity="0.17"/><rect x="529.9" y="531.1" width="8.5" height="2.4" fill="#fff" opacity="0.06"/><rect x="529.9" y="565.1" width="8.5" height="2.4" fill="#fff" opacity="0.06"/><ellipse cx="543.7" cy="549.3" rx="7.5" ry="9.5" fill="none" stroke="#fff" stroke-width="3" opacity="0.07"/><path d="M539.3 557.2 A7.6 9.6 0 0 1 539.3 541.4" fill="none" stroke="#fff" stroke-width="3.4" stroke-linecap="round" opacity="0.11"/><path d="M548.1 541.4 A7.6 9.6 0 0 1 548.1 557.2" fill="none" stroke="#fff" stroke-width="3.4" stroke-linecap="round" opacity="0.20"/><rect x="183.7" y="538.8" width="2.6" height="21" rx="1.3" fill="#fff" opacity="0.56"/><path d="M193.3 556.9 A7.6 9.6 0 0 1 193.3 541.7" fill="none" stroke="#fff" stroke-width="2.4" stroke-linecap="round" opacity="0.34"/><rect x="176.4" y="535.8" width="2.2" height="27" fill="#fff" opacity="0.24"/><ellipse cx="564.5" cy="542.8" rx="2.6" ry="5" fill="#fff" opacity="0.42"/><ellipse cx="564.5" cy="555.8" rx="2.6" ry="5" fill="#fff" opacity="0.42"/><path d="M555 536.3 L567 550.3 M555 562.3 L567 548.3" stroke="#fff" stroke-width="2.2" opacity="0.22"/></g>
<g filter="url(#b05)"><ellipse cx="198" cy="549.3" rx="5.8" ry="7.8" fill="#000" opacity="0.95"/><ellipse cx="217.5" cy="549.3" rx="5.8" ry="7.8" fill="#000" opacity="0.95"/><ellipse cx="237.5" cy="549.3" rx="5.8" ry="7.8" fill="#000" opacity="0.95"/><ellipse cx="257" cy="549.3" rx="5.6" ry="7.6" fill="#000" opacity="0.92"/><ellipse cx="276.2" cy="549.3" rx="5.4" ry="7.4" fill="#000" opacity="0.88"/><ellipse cx="296" cy="549.3" rx="5.2" ry="7.2" fill="#000" opacity="0.8"/><ellipse cx="317" cy="549.3" rx="4.9" ry="6.9" fill="#000" opacity="0.65"/><ellipse cx="334.5" cy="549.3" rx="4.6" ry="6.6" fill="#000" opacity="0.5"/><ellipse cx="351" cy="549.3" rx="4.3" ry="6.4" fill="#000" opacity="0.4"/><ellipse cx="365" cy="549.3" rx="4.1" ry="6.2" fill="#000" opacity="0.3"/><ellipse cx="378.7" cy="549.3" rx="4.1" ry="6.2" fill="#000" opacity="0.3"/><ellipse cx="393.7" cy="549.3" rx="4.3" ry="6.4" fill="#000" opacity="0.35"/><ellipse cx="410" cy="549.3" rx="4.6" ry="6.6" fill="#000" opacity="0.45"/><ellipse cx="427.5" cy="549.3" rx="4.9" ry="6.9" fill="#000" opacity="0.55"/><ellipse cx="446.2" cy="549.3" rx="5.2" ry="7.2" fill="#000" opacity="0.7"/><ellipse cx="466.2" cy="549.3" rx="5.4" ry="7.4" fill="#000" opacity="0.8"/><ellipse cx="485.5" cy="549.3" rx="5.6" ry="7.6" fill="#000" opacity="0.9"/><ellipse cx="505" cy="549.3" rx="5.8" ry="7.8" fill="#000" opacity="0.95"/><ellipse cx="524.5" cy="549.3" rx="5.8" ry="7.8" fill="#000" opacity="0.95"/><ellipse cx="543.7" cy="549.3" rx="5.8" ry="7.8" fill="#000" opacity="0.95"/></g>
</g></g>
<text x="150.5" y="519.4" font-size="11.5" fill="#ecca80">PCN<tspan font-size="6" dy="2">1</tspan></text>
<line x1="174" y1="576.2" x2="569" y2="576.2" stroke="#fff" stroke-width="1.1"/><line x1="174" y1="573" x2="174" y2="579.5" stroke="#fff" stroke-width="1.3"/><line x1="569" y1="573" x2="569" y2="579.5" stroke="#fff" stroke-width="1.3"/>
<text x="371.5" y="586" font-size="9.5" text-anchor="middle" fill="#fff">9 μm</text>
<line x1="155.5" y1="588.7" x2="155.5" y2="577.2" stroke="#fff" stroke-width="0.90"/><polygon fill="#fff" points="157.0,577.2 155.5,574.0 154.0,577.2"/><line x1="155.5" y1="588.7" x2="165.8" y2="588.7" stroke="#fff" stroke-width="0.90"/><polygon fill="#fff" points="165.8,590.2 169.0,588.7 165.8,587.2"/><text x="152.3" y="571.5" font-size="9.5" fill="#fff">y</text><text x="170" y="591.8" font-size="9.5" fill="#fff">x</text>
<rect x="533.3" y="511.4" width="51.8" height="5.8" fill="url(#jetbar)"/><rect x="533.3" y="511.4" width="51.8" height="5.8" fill="url(#cbfade)"/>
<text x="507.6" y="519.2" font-size="12.5" fill="#fff">P<tspan font-size="5.5" dy="2">abs</tspan></text>
<text x="527.8" y="526.6" font-size="10" text-anchor="middle" fill="#fff">0</text><text x="586" y="526.6" font-size="10" text-anchor="middle" fill="#fff">0.8</text>
<line x1="575" y1="532.4" x2="575" y2="568" stroke="#fff" stroke-width="1.1"/><line x1="571.8" y1="532.4" x2="578.2" y2="532.4" stroke="#fff" stroke-width="1.2"/><line x1="571.8" y1="568" x2="578.2" y2="568" stroke="#fff" stroke-width="1.2"/>
<text transform="translate(581.2,549.5) rotate(90)" font-size="10" text-anchor="middle" fill="#fff">0.58 μm</text>
<g clip-path="url(#cf2)"><g filter="url(#jet)">
<rect x="138" y="595.2" width="467.4" height="101.5" fill="#000"/>
<g filter="url(#b1)"><rect x="177" y="626.5" width="392" height="37" fill="#fff" opacity="0.1"/></g>
<g filter="url(#b4)"><ellipse cx="368" cy="645" rx="72" ry="14" fill="#fff" opacity="0.2"/></g>
<g filter="url(#b1)"><ellipse cx="198" cy="645" rx="7.5" ry="9.5" fill="none" stroke="#fff" stroke-width="3" opacity="0.14"/><path d="M193.6 652.9 A7.6 9.6 0 0 1 193.6 637.1" fill="none" stroke="#fff" stroke-width="3.4" stroke-linecap="round" opacity="0.30"/><path d="M202.4 637.1 A7.6 9.6 0 0 1 202.4 652.9" fill="none" stroke="#fff" stroke-width="3.4" stroke-linecap="round" opacity="0.20"/><rect x="203.3" y="626.8" width="8.8" height="2.4" fill="#fff" opacity="0.18"/><rect x="203.3" y="660.8" width="8.8" height="2.4" fill="#fff" opacity="0.18"/><ellipse cx="217.5" cy="645" rx="7.5" ry="9.5" fill="none" stroke="#fff" stroke-width="3" opacity="0.13"/><path d="M213.1 652.9 A7.6 9.6 0 0 1 213.1 637.1" fill="none" stroke="#fff" stroke-width="3.4" stroke-linecap="round" opacity="0.28"/><path d="M221.9 637.1 A7.6 9.6 0 0 1 221.9 652.9" fill="none" stroke="#fff" stroke-width="3.4" stroke-linecap="round" opacity="0.19"/><rect x="222.8" y="626.8" width="9.3" height="2.4" fill="#fff" opacity="0.17"/><rect x="222.8" y="660.8" width="9.3" height="2.4" fill="#fff" opacity="0.17"/><ellipse cx="237.5" cy="645" rx="7.5" ry="9.5" fill="none" stroke="#fff" stroke-width="3" opacity="0.16"/><path d="M233.1 652.9 A7.6 9.6 0 0 1 233.1 637.1" fill="none" stroke="#fff" stroke-width="3.4" stroke-linecap="round" opacity="0.35"/><path d="M241.9 637.1 A7.6 9.6 0 0 1 241.9 652.9" fill="none" stroke="#fff" stroke-width="3.4" stroke-linecap="round" opacity="0.24"/><rect x="242.8" y="626.8" width="8.8" height="2.4" fill="#fff" opacity="0.21"/><rect x="242.8" y="660.8" width="8.8" height="2.4" fill="#fff" opacity="0.21"/><ellipse cx="257" cy="645" rx="7.3" ry="9.3" fill="none" stroke="#fff" stroke-width="3" opacity="0.14"/><path d="M252.8 652.7 A7.4 9.4 0 0 1 252.8 637.3" fill="none" stroke="#fff" stroke-width="3.4" stroke-linecap="round" opacity="0.30"/><path d="M261.2 637.3 A7.4 9.4 0 0 1 261.2 652.7" fill="none" stroke="#fff" stroke-width="3.4" stroke-linecap="round" opacity="0.20"/><rect x="262.2" y="626.8" width="8.9" height="2.4" fill="#fff" opacity="0.18"/><rect x="262.2" y="660.8" width="8.9" height="2.4" fill="#fff" opacity="0.18"/><ellipse cx="276.2" cy="645" rx="7.1" ry="9.1" fill="none" stroke="#fff" stroke-width="3" opacity="0.12"/><path d="M272.1 652.5 A7.2 9.2 0 0 1 272.1 637.5" fill="none" stroke="#fff" stroke-width="3.4" stroke-linecap="round" opacity="0.26"/><path d="M280.3 637.5 A7.2 9.2 0 0 1 280.3 652.5" fill="none" stroke="#fff" stroke-width="3.4" stroke-linecap="round" opacity="0.18"/><rect x="281.2" y="626.8" width="9.9" height="2.4" fill="#fff" opacity="0.16"/><rect x="281.2" y="660.8" width="9.9" height="2.4" fill="#fff" opacity="0.16"/><ellipse cx="296" cy="645" rx="6.9" ry="8.9" fill="none" stroke="#fff" stroke-width="3" opacity="0.12"/><path d="M292.0 652.4 A7.0 9.0 0 0 1 292.0 637.6" fill="none" stroke="#fff" stroke-width="3.4" stroke-linecap="round" opacity="0.26"/><path d="M300.0 637.6 A7.0 9.0 0 0 1 300.0 652.4" fill="none" stroke="#fff" stroke-width="3.4" stroke-linecap="round" opacity="0.18"/><rect x="300.8" y="626.8" width="11.5" height="2.4" fill="#fff" opacity="0.16"/><rect x="300.8" y="660.8" width="11.5" height="2.4" fill="#fff" opacity="0.16"/><ellipse cx="317" cy="645" rx="6.6" ry="8.6" fill="none" stroke="#fff" stroke-width="3" opacity="0.14"/><path d="M313.2 652.1 A6.7 8.7 0 0 1 313.2 637.9" fill="none" stroke="#fff" stroke-width="3.4" stroke-linecap="round" opacity="0.31"/><path d="M320.8 637.9 A6.7 8.7 0 0 1 320.8 652.1" fill="none" stroke="#fff" stroke-width="3.4" stroke-linecap="round" opacity="0.21"/><rect x="321.4" y="626.8" width="8.6" height="2.4" fill="#fff" opacity="0.19"/><rect x="321.4" y="660.8" width="8.6" height="2.4" fill="#fff" opacity="0.19"/><ellipse cx="334.5" cy="645" rx="6.3" ry="8.3" fill="none" stroke="#fff" stroke-width="3" opacity="0.16"/><path d="M330.8 651.9 A6.4 8.4 0 0 1 330.8 638.1" fill="none" stroke="#fff" stroke-width="3.4" stroke-linecap="round" opacity="0.35"/><path d="M338.2 638.1 A6.4 8.4 0 0 1 338.2 651.9" fill="none" stroke="#fff" stroke-width="3.4" stroke-linecap="round" opacity="0.24"/><rect x="338.6" y="626.8" width="8.2" height="2.4" fill="#fff" opacity="0.21"/><rect x="338.6" y="660.8" width="8.2" height="2.4" fill="#fff" opacity="0.21"/><ellipse cx="351" cy="645" rx="6" ry="8.1" fill="none" stroke="#fff" stroke-width="3" opacity="0.17"/><path d="M347.5 651.7 A6.1 8.2 0 0 1 347.5 638.3" fill="none" stroke="#fff" stroke-width="3.4" stroke-linecap="round" opacity="0.38"/><path d="M354.5 638.3 A6.1 8.2 0 0 1 354.5 651.7" fill="none" stroke="#fff" stroke-width="3.4" stroke-linecap="round" opacity="0.26"/><rect x="354.9" y="626.8" width="6.3" height="2.4" fill="#fff" opacity="0.23"/><rect x="354.9" y="660.8" width="6.3" height="2.4" fill="#fff" opacity="0.23"/><ellipse cx="365" cy="645" rx="5.8" ry="7.9" fill="none" stroke="#fff" stroke-width="3" opacity="0.17"/><path d="M361.6 651.6 A5.9 8.0 0 0 1 361.6 638.4" fill="none" stroke="#fff" stroke-width="3.4" stroke-linecap="round" opacity="0.38"/><path d="M368.4 638.4 A5.9 8.0 0 0 1 368.4 651.6" fill="none" stroke="#fff" stroke-width="3.4" stroke-linecap="round" opacity="0.26"/><rect x="368.7" y="626.8" width="6.4" height="2.4" fill="#fff" opacity="0.23"/><rect x="368.7" y="660.8" width="6.4" height="2.4" fill="#fff" opacity="0.23"/><ellipse cx="378.7" cy="645" rx="5.8" ry="7.9" fill="none" stroke="#fff" stroke-width="3" opacity="0.17"/><path d="M375.3 651.6 A5.9 8.0 0 0 1 375.3 638.4" fill="none" stroke="#fff" stroke-width="3.4" stroke-linecap="round" opacity="0.38"/><path d="M382.1 638.4 A5.9 8.0 0 0 1 382.1 651.6" fill="none" stroke="#fff" stroke-width="3.4" stroke-linecap="round" opacity="0.26"/><rect x="382.3" y="626.8" width="7.7" height="2.4" fill="#fff" opacity="0.23"/><rect x="382.3" y="660.8" width="7.7" height="2.4" fill="#fff" opacity="0.23"/><ellipse cx="393.7" cy="645" rx="6" ry="8.1" fill="none" stroke="#fff" stroke-width="3" opacity="0.17"/><path d="M390.2 651.7 A6.1 8.2 0 0 1 390.2 638.3" fill="none" stroke="#fff" stroke-width="3.4" stroke-linecap="round" opacity="0.38"/><path d="M397.2 638.3 A6.1 8.2 0 0 1 397.2 651.7" fill="none" stroke="#fff" stroke-width="3.4" stroke-linecap="round" opacity="0.26"/><rect x="397.6" y="626.8" width="8.6" height="2.4" fill="#fff" opacity="0.23"/><rect x="397.6" y="660.8" width="8.6" height="2.4" fill="#fff" opacity="0.23"/><ellipse cx="410" cy="645" rx="6.3" ry="8.3" fill="none" stroke="#fff" stroke-width="3" opacity="0.17"/><path d="M406.3 651.9 A6.4 8.4 0 0 1 406.3 638.1" fill="none" stroke="#fff" stroke-width="3.4" stroke-linecap="round" opacity="0.38"/><path d="M413.7 638.1 A6.4 8.4 0 0 1 413.7 651.9" fill="none" stroke="#fff" stroke-width="3.4" stroke-linecap="round" opacity="0.26"/><rect x="414.1" y="626.8" width="9.2" height="2.4" fill="#fff" opacity="0.23"/><rect x="414.1" y="660.8" width="9.2" height="2.4" fill="#fff" opacity="0.23"/><ellipse cx="427.5" cy="645" rx="6.6" ry="8.6" fill="none" stroke="#fff" stroke-width="3" opacity="0.17"/><path d="M423.7 652.1 A6.7 8.7 0 0 1 423.7 637.9" fill="none" stroke="#fff" stroke-width="3.4" stroke-linecap="round" opacity="0.38"/><path d="M431.3 637.9 A6.7 8.7 0 0 1 431.3 652.1" fill="none" stroke="#fff" stroke-width="3.4" stroke-linecap="round" opacity="0.26"/><rect x="432.0" y="626.8" width="9.8" height="2.4" fill="#fff" opacity="0.23"/><rect x="432.0" y="660.8" width="9.8" height="2.4" fill="#fff" opacity="0.23"/><ellipse cx="446.2" cy="645" rx="6.9" ry="8.9" fill="none" stroke="#fff" stroke-width="3" opacity="0.17"/><path d="M442.2 652.4 A7.0 9.0 0 0 1 442.2 637.6" fill="none" stroke="#fff" stroke-width="3.4" stroke-linecap="round" opacity="0.38"/><path d="M450.2 637.6 A7.0 9.0 0 0 1 450.2 652.4" fill="none" stroke="#fff" stroke-width="3.4" stroke-linecap="round" opacity="0.26"/><rect x="450.9" y="626.8" width="10.5" height="2.4" fill="#fff" opacity="0.23"/><rect x="450.9" y="660.8" width="10.5" height="2.4" fill="#fff" opacity="0.23"/><ellipse cx="466.2" cy="645" rx="7.1" ry="9.1" fill="none" stroke="#fff" stroke-width="3" opacity="0.17"/><path d="M462.1 652.5 A7.2 9.2 0 0 1 462.1 637.5" fill="none" stroke="#fff" stroke-width="3.4" stroke-linecap="round" opacity="0.36"/><path d="M470.3 637.5 A7.2 9.2 0 0 1 470.3 652.5" fill="none" stroke="#fff" stroke-width="3.4" stroke-linecap="round" opacity="0.25"/><rect x="471.2" y="626.8" width="9.4" height="2.4" fill="#fff" opacity="0.22"/><rect x="471.2" y="660.8" width="9.4" height="2.4" fill="#fff" opacity="0.22"/><ellipse cx="485.5" cy="645" rx="7.3" ry="9.3" fill="none" stroke="#fff" stroke-width="3" opacity="0.16"/><path d="M481.3 652.7 A7.4 9.4 0 0 1 481.3 637.3" fill="none" stroke="#fff" stroke-width="3.4" stroke-linecap="round" opacity="0.35"/><path d="M489.7 637.3 A7.4 9.4 0 0 1 489.7 652.7" fill="none" stroke="#fff" stroke-width="3.4" stroke-linecap="round" opacity="0.24"/><rect x="490.6" y="626.8" width="9.2" height="2.4" fill="#fff" opacity="0.21"/><rect x="490.6" y="660.8" width="9.2" height="2.4" fill="#fff" opacity="0.21"/><ellipse cx="505" cy="645" rx="7.5" ry="9.5" fill="none" stroke="#fff" stroke-width="3" opacity="0.14"/><path d="M500.6 652.9 A7.6 9.6 0 0 1 500.6 637.1" fill="none" stroke="#fff" stroke-width="3.4" stroke-linecap="round" opacity="0.31"/><path d="M509.4 637.1 A7.6 9.6 0 0 1 509.4 652.9" fill="none" stroke="#fff" stroke-width="3.4" stroke-linecap="round" opacity="0.21"/><rect x="510.4" y="626.8" width="8.8" height="2.4" fill="#fff" opacity="0.19"/><rect x="510.4" y="660.8" width="8.8" height="2.4" fill="#fff" opacity="0.19"/><ellipse cx="524.5" cy="645" rx="7.5" ry="9.5" fill="none" stroke="#fff" stroke-width="3" opacity="0.12"/><path d="M520.1 652.9 A7.6 9.6 0 0 1 520.1 637.1" fill="none" stroke="#fff" stroke-width="3.4" stroke-linecap="round" opacity="0.26"/><path d="M528.9 637.1 A7.6 9.6 0 0 1 528.9 652.9" fill="none" stroke="#fff" stroke-width="3.4" stroke-linecap="round" opacity="0.18"/><rect x="529.9" y="626.8" width="8.5" height="2.4" fill="#fff" opacity="0.16"/><rect x="529.9" y="660.8" width="8.5" height="2.4" fill="#fff" opacity="0.16"/><ellipse cx="543.7" cy="645" rx="7.5" ry="9.5" fill="none" stroke="#fff" stroke-width="3" opacity="0.11"/><path d="M539.3 652.9 A7.6 9.6 0 0 1 539.3 637.1" fill="none" stroke="#fff" stroke-width="3.4" stroke-linecap="round" opacity="0.25"/><path d="M548.1 637.1 A7.6 9.6 0 0 1 548.1 652.9" fill="none" stroke="#fff" stroke-width="3.4" stroke-linecap="round" opacity="0.17"/><path d="M298 627 Q283 645 298 663" fill="none" stroke="#fff" stroke-width="2.8" opacity="0.27"/><path d="M319 627 Q304.3 645 319 663" fill="none" stroke="#fff" stroke-width="2.8" opacity="0.27"/><path d="M336.5 627 Q322.1 645 336.5 663" fill="none" stroke="#fff" stroke-width="2.8" opacity="0.27"/><path d="M353 627 Q338.9 645 353 663" fill="none" stroke="#fff" stroke-width="2.8" opacity="0.27"/><path d="M367 627 Q353.1 645 367 663" fill="none" stroke="#fff" stroke-width="2.8" opacity="0.27"/><path d="M380.7 627 Q366.8 645 380.7 663" fill="none" stroke="#fff" stroke-width="2.8" opacity="0.27"/><path d="M395.7 627 Q381.6 645 395.7 663" fill="none" stroke="#fff" stroke-width="2.8" opacity="0.27"/><path d="M412 627 Q397.6 645 412 663" fill="none" stroke="#fff" stroke-width="2.8" opacity="0.27"/><path d="M429.5 627 Q414.8 645 429.5 663" fill="none" stroke="#fff" stroke-width="2.8" opacity="0.27"/><path d="M448.2 627 Q433.2 645 448.2 663" fill="none" stroke="#fff" stroke-width="2.8" opacity="0.27"/><rect x="184" y="633" width="3" height="24" rx="1.5" fill="#fff" opacity="0.3"/><rect x="561.7" y="634.5" width="4.4" height="21" rx="2.2" fill="#fff" opacity="0.44"/><path d="M553 631 L565 648 M553 659 L565 642" stroke="#fff" stroke-width="2.4" opacity="0.3"/></g>
<g filter="url(#b05)"><path d="M314.14 637.6 A6.2 8.2 0 0 1 311.2 642.8" fill="none" stroke="#fff" stroke-width="2.2" opacity="0.15"/><path d="M314.14 652.4 A6.2 8.2 0 0 0 311.2 647.2" fill="none" stroke="#fff" stroke-width="2.2" opacity="0.15"/><path d="M331.805 637.9 A5.9 7.9 0 0 1 329 642.8" fill="none" stroke="#fff" stroke-width="2.2" opacity="0.55"/><path d="M331.805 652.1 A5.9 7.9 0 0 0 329 647.2" fill="none" stroke="#fff" stroke-width="2.2" opacity="0.55"/><path d="M348.47 638.1 A5.6 7.7 0 0 1 345.8 642.8" fill="none" stroke="#fff" stroke-width="2.2" opacity="0.75"/><path d="M348.47 651.9 A5.6 7.7 0 0 0 345.8 647.2" fill="none" stroke="#fff" stroke-width="2.2" opacity="0.75"/><path d="M362.58 638.3 A5.4 7.5 0 0 1 360 642.8" fill="none" stroke="#fff" stroke-width="2.2" opacity="0.75"/><path d="M362.58 651.7 A5.4 7.5 0 0 0 360 647.2" fill="none" stroke="#fff" stroke-width="2.2" opacity="0.75"/><path d="M376.28 638.3 A5.4 7.5 0 0 1 373.7 642.8" fill="none" stroke="#fff" stroke-width="2.2" opacity="0.7"/><path d="M376.28 651.7 A5.4 7.5 0 0 0 373.7 647.2" fill="none" stroke="#fff" stroke-width="2.2" opacity="0.7"/><path d="M391.17 638.1 A5.6 7.7 0 0 1 388.5 642.8" fill="none" stroke="#fff" stroke-width="2.2" opacity="0.6"/><path d="M391.17 651.9 A5.6 7.7 0 0 0 388.5 647.2" fill="none" stroke="#fff" stroke-width="2.2" opacity="0.6"/><path d="M407.305 637.9 A5.9 7.9 0 0 1 404.5 642.8" fill="none" stroke="#fff" stroke-width="2.2" opacity="0.45"/><path d="M407.305 652.1 A5.9 7.9 0 0 0 404.5 647.2" fill="none" stroke="#fff" stroke-width="2.2" opacity="0.45"/><path d="M424.64 637.6 A6.2 8.2 0 0 1 421.7 642.8" fill="none" stroke="#fff" stroke-width="2.2" opacity="0.2"/><path d="M424.64 652.4 A6.2 8.2 0 0 0 421.7 647.2" fill="none" stroke="#fff" stroke-width="2.2" opacity="0.2"/><path d="M443.175 637.3 A6.5 8.5 0 0 1 440.1 642.8" fill="none" stroke="#fff" stroke-width="2.2" opacity="0.1"/><path d="M443.175 652.7 A6.5 8.5 0 0 0 440.1 647.2" fill="none" stroke="#fff" stroke-width="2.2" opacity="0.1"/><path d="M463.065 637.1 A6.7 8.7 0 0 1 459.9 642.8" fill="none" stroke="#fff" stroke-width="2.2" opacity="0.05"/><path d="M463.065 652.9 A6.7 8.7 0 0 0 459.9 647.2" fill="none" stroke="#fff" stroke-width="2.2" opacity="0.05"/><circle cx="564" cy="639.5" r="1.6" fill="#fff" opacity="0.25"/><circle cx="564" cy="650.5" r="1.6" fill="#fff" opacity="0.25"/></g>
<g filter="url(#b05)"><ellipse cx="198" cy="645" rx="5.8" ry="7.8" fill="#000" opacity="0.96"/><ellipse cx="217.5" cy="645" rx="5.8" ry="7.8" fill="#000" opacity="0.96"/><ellipse cx="237.5" cy="645" rx="5.8" ry="7.8" fill="#000" opacity="0.96"/><ellipse cx="257" cy="645" rx="5.6" ry="7.6" fill="#000" opacity="0.96"/><ellipse cx="276.2" cy="645" rx="5.4" ry="7.4" fill="#000" opacity="0.96"/><ellipse cx="296" cy="645" rx="5.2" ry="7.2" fill="#000" opacity="0.96"/><ellipse cx="317" cy="645" rx="4.9" ry="6.9" fill="#000" opacity="0.96"/><ellipse cx="334.5" cy="645" rx="4.6" ry="6.6" fill="#000" opacity="0.96"/><ellipse cx="351" cy="645" rx="4.3" ry="6.4" fill="#000" opacity="0.96"/><ellipse cx="365" cy="645" rx="4.1" ry="6.2" fill="#000" opacity="0.96"/><ellipse cx="378.7" cy="645" rx="4.1" ry="6.2" fill="#000" opacity="0.96"/><ellipse cx="393.7" cy="645" rx="4.3" ry="6.4" fill="#000" opacity="0.96"/><ellipse cx="410" cy="645" rx="4.6" ry="6.6" fill="#000" opacity="0.96"/><ellipse cx="427.5" cy="645" rx="4.9" ry="6.9" fill="#000" opacity="0.96"/><ellipse cx="446.2" cy="645" rx="5.2" ry="7.2" fill="#000" opacity="0.96"/><ellipse cx="466.2" cy="645" rx="5.4" ry="7.4" fill="#000" opacity="0.96"/><ellipse cx="485.5" cy="645" rx="5.6" ry="7.6" fill="#000" opacity="0.96"/><ellipse cx="505" cy="645" rx="5.8" ry="7.8" fill="#000" opacity="0.96"/><ellipse cx="524.5" cy="645" rx="5.8" ry="7.8" fill="#000" opacity="0.96"/><ellipse cx="543.7" cy="645" rx="5.8" ry="7.8" fill="#000" opacity="0.96"/></g>
</g></g>
<text x="150.5" y="615" font-size="11.5" fill="#ecca80">PCN<tspan font-size="6" dy="2">2</tspan></text>
</g>
</svg>
</body></html>
